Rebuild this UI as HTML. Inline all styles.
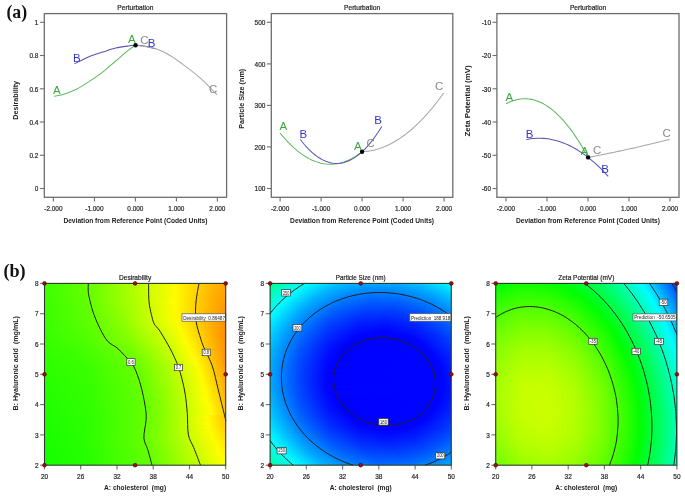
<!DOCTYPE html>
<html><head><meta charset="utf-8"><style>
html,body{margin:0;padding:0;background:#fff;}
body{width:685px;height:496px;overflow:hidden;position:relative;font-family:"Liberation Sans",sans-serif;}
#wrap{position:absolute;left:0;top:0;width:685px;height:496px;filter:blur(0.45px);}
.fld{position:absolute;overflow:hidden;}
.fld i{position:absolute;left:0;width:100%;height:2px;display:block;}
svg{position:absolute;left:0;top:0;}
svg text{font-family:"Liberation Sans",sans-serif;}
</style></head><body><div id="wrap">
<div class="fld" style="left:44.5px;top:283.4px;width:181.2px;height:181.8px"><i style="top:0px;background:linear-gradient(90deg,#3dff00 0px,#69ff00 46px,#aeff00 88px,#fffc00 130px,#ffb900 166px,#ffa400 181px)"></i><i style="top:2px;background:linear-gradient(90deg,#3dff00 0px,#67ff00 45px,#b7ff00 93px,#fffc00 130px,#ffb500 168px,#ffa300 181px)"></i><i style="top:4px;background:linear-gradient(90deg,#3dff00 0px,#67ff00 45px,#b7ff00 93px,#fffc00 130px,#ffb600 167px,#ffa200 181px)"></i><i style="top:6px;background:linear-gradient(90deg,#3dff00 0px,#67ff00 45px,#b1ff00 90px,#fffc00 130px,#ffb500 167px,#ffa100 181px)"></i><i style="top:8px;background:linear-gradient(90deg,#3cff00 0px,#6fff00 51px,#d5ff00 109px,#fffb00 130px,#ffb600 166px,#ffa000 181px)"></i><i style="top:10px;background:linear-gradient(90deg,#3cff00 0px,#71ff00 53px,#ddff00 113px,#fffb00 130px,#ffb200 168px,#ff9f00 181px)"></i><i style="top:12px;background:linear-gradient(90deg,#3cff00 0px,#66ff00 45px,#abff00 87px,#fffb00 130px,#ffb600 165px,#ff9d00 181px)"></i><i style="top:14px;background:linear-gradient(90deg,#3cff00 0px,#68ff00 47px,#b2ff00 91px,#fffb00 130px,#ffb000 168px,#ff9c00 181px)"></i><i style="top:16px;background:linear-gradient(90deg,#3cff00 0px,#65ff00 45px,#aaff00 87px,#fffd00 129px,#ffb100 167px,#ff9b00 181px)"></i><i style="top:18px;background:linear-gradient(90deg,#3bff00 0px,#67ff00 47px,#b1ff00 91px,#fffd00 129px,#ffab00 170px,#ff9a00 181px)"></i><i style="top:20px;background:linear-gradient(90deg,#3bff00 0px,#6aff00 50px,#b8ff00 95px,#fffd00 129px,#ffa900 171px,#ff9900 181px)"></i><i style="top:22px;background:linear-gradient(90deg,#3bff00 0px,#62ff00 44px,#9eff00 82px,#fffb00 130px,#ffa300 174px,#ff9800 181px)"></i><i style="top:24px;background:linear-gradient(90deg,#3bff00 0px,#63ff00 45px,#9bff00 81px,#fffc00 130px,#ffab00 169px,#ff9700 181px)"></i><i style="top:26px;background:linear-gradient(90deg,#3bff00 0px,#61ff00 44px,#95ff00 78px,#fffc00 130px,#ffa500 172px,#ff9600 181px)"></i><i style="top:28px;background:linear-gradient(90deg,#3bff00 0px,#60ff00 44px,#99ff00 81px,#fffd00 130px,#ffa800 170px,#ff9500 181px)"></i><i style="top:30px;background:linear-gradient(90deg,#3aff00 0px,#62ff00 46px,#9aff00 82px,#fffb00 131px,#ffa200 173px,#ff9400 181px)"></i><i style="top:32px;background:linear-gradient(90deg,#3aff00 0px,#5fff00 44px,#8cff00 75px,#f6ff00 126px,#fff700 133px,#ffa100 173px,#ff9300 181px)"></i><i style="top:34px;background:linear-gradient(90deg,#3aff00 0px,#5cff00 42px,#8aff00 75px,#f5ff00 126px,#fffa00 132px,#ffa400 171px,#ff9200 181px)"></i><i style="top:36px;background:linear-gradient(90deg,#3aff00 0px,#59ff00 40px,#85ff00 73px,#efff00 124px,#fffb00 132px,#ffa200 172px,#ff9100 181px)"></i><i style="top:38px;background:linear-gradient(90deg,#3aff00 0px,#58ff00 40px,#85ff00 74px,#f0ff00 125px,#fffa00 133px,#ff9700 177px,#ff9000 181px)"></i><i style="top:40px;background:linear-gradient(90deg,#3aff00 0px,#56ff00 39px,#82ff00 73px,#eeff00 125px,#fff900 134px,#ff8f00 181px)"></i><i style="top:42px;background:linear-gradient(90deg,#39ff00 0px,#5aff00 44px,#87ff00 77px,#edff00 126px,#fffc00 134px,#ff8e00 181px)"></i><i style="top:44px;background:linear-gradient(90deg,#39ff00 0px,#57ff00 41px,#83ff00 76px,#e2ff00 123px,#fffc00 135px,#ff8c00 181px)"></i><i style="top:46px;background:linear-gradient(90deg,#39ff00 0px,#55ff00 40px,#82ff00 77px,#e1ff00 124px,#fffc00 136px,#ff8d00 181px)"></i><i style="top:48px;background:linear-gradient(90deg,#38ff00 0px,#56ff00 43px,#85ff00 80px,#deff00 124px,#fffc00 137px,#ff9400 178px,#ff8d00 181px)"></i><i style="top:50px;background:linear-gradient(90deg,#37ff00 0px,#56ff00 44px,#86ff00 82px,#e3ff00 127px,#fffc00 138px,#ff9400 178px,#ff8d00 181px)"></i><i style="top:52px;background:linear-gradient(90deg,#36ff00 0px,#55ff00 44px,#84ff00 82px,#dbff00 125px,#fffb00 139px,#ff9000 180px,#ff8e00 181px)"></i><i style="top:54px;background:linear-gradient(90deg,#36ff00 0px,#52ff00 42px,#82ff00 82px,#dbff00 126px,#fffb00 140px,#ff9f00 174px,#ff8e00 181px)"></i><i style="top:56px;background:linear-gradient(90deg,#35ff00 0px,#51ff00 42px,#80ff00 82px,#d8ff00 126px,#fffe00 140px,#ff9d00 175px,#ff8f00 181px)"></i><i style="top:58px;background:linear-gradient(90deg,#34ff00 0px,#4eff00 41px,#7dff00 82px,#d3ff00 125px,#fffd00 141px,#ff8f00 181px)"></i><i style="top:60px;background:linear-gradient(90deg,#34ff00 0px,#47ff00 36px,#79ff00 82px,#d0ff00 125px,#fffd00 142px,#ff9000 181px)"></i><i style="top:62px;background:linear-gradient(90deg,#33ff00 0px,#46ff00 38px,#78ff00 84px,#cbff00 124px,#fffd00 143px,#ff9000 181px)"></i><i style="top:64px;background:linear-gradient(90deg,#32ff00 0px,#42ff00 36px,#76ff00 85px,#c1ff00 121px,#fffd00 144px,#ff9000 181px)"></i><i style="top:66px;background:linear-gradient(90deg,#31ff00 0px,#41ff00 37px,#76ff00 87px,#c8ff00 125px,#fffd00 145px,#ff9100 181px)"></i><i style="top:68px;background:linear-gradient(90deg,#31ff00 0px,#3fff00 36px,#73ff00 87px,#bcff00 121px,#fffd00 146px,#ff9100 181px)"></i><i style="top:70px;background:linear-gradient(90deg,#30ff00 0px,#3eff00 36px,#72ff00 88px,#b2ff00 118px,#fffd00 147px,#ff9200 181px)"></i><i style="top:72px;background:linear-gradient(90deg,#2fff00 0px,#3eff00 38px,#72ff00 90px,#beff00 124px,#fffd00 148px,#ff9200 181px)"></i><i style="top:74px;background:linear-gradient(90deg,#2eff00 0px,#3fff00 41px,#73ff00 92px,#b9ff00 123px,#fffd00 149px,#ff9300 181px)"></i><i style="top:76px;background:linear-gradient(90deg,#2eff00 0px,#3cff00 39px,#73ff00 94px,#c1ff00 127px,#fffd00 150px,#ff9300 181px)"></i><i style="top:78px;background:linear-gradient(90deg,#2dff00 0px,#3dff00 42px,#71ff00 94px,#b1ff00 122px,#fffd00 151px,#ff9c00 179px,#ff9400 181px)"></i><i style="top:80px;background:linear-gradient(90deg,#2cff00 0px,#3cff00 42px,#72ff00 96px,#afff00 122px,#fffd00 152px,#ffa200 178px,#ff9500 181px)"></i><i style="top:82px;background:linear-gradient(90deg,#2cff00 0px,#39ff00 39px,#69ff00 92px,#9cff00 116px,#fffc00 153px,#ffb000 175px,#ff9700 181px)"></i><i style="top:84px;background:linear-gradient(90deg,#2bff00 0px,#3aff00 42px,#6bff00 94px,#9dff00 117px,#fffb00 154px,#ffaa00 177px,#ff9800 181px)"></i><i style="top:86px;background:linear-gradient(90deg,#2aff00 0px,#39ff00 42px,#6bff00 95px,#a3ff00 120px,#fffd00 154px,#ffb000 176px,#ff9a00 181px)"></i><i style="top:88px;background:linear-gradient(90deg,#29ff00 0px,#39ff00 43px,#6dff00 97px,#a7ff00 122px,#fffc00 155px,#ffb100 176px,#ff9b00 181px)"></i><i style="top:90px;background:linear-gradient(90deg,#29ff00 0px,#37ff00 41px,#6aff00 96px,#9dff00 119px,#fffd00 155px,#ffb300 176px,#ff9c00 181px)"></i><i style="top:92px;background:linear-gradient(90deg,#28ff00 0px,#37ff00 42px,#6cff00 98px,#9eff00 120px,#fffc00 156px,#ffb500 176px,#ff9e00 181px)"></i><i style="top:94px;background:linear-gradient(90deg,#28ff00 0px,#36ff00 42px,#6bff00 98px,#9fff00 121px,#fffb00 157px,#ffb700 176px,#ff9f00 181px)"></i><i style="top:96px;background:linear-gradient(90deg,#27ff00 0px,#37ff00 44px,#6aff00 98px,#a0ff00 122px,#fffc00 157px,#ffb900 176px,#ffa100 181px)"></i><i style="top:98px;background:linear-gradient(90deg,#27ff00 0px,#35ff00 42px,#6cff00 100px,#a2ff00 123px,#fffb00 158px,#ffb600 177px,#ffa200 181px)"></i><i style="top:100px;background:linear-gradient(90deg,#26ff00 0px,#36ff00 44px,#6aff00 99px,#9bff00 121px,#fffd00 158px,#ffb800 177px,#ffa400 181px)"></i><i style="top:102px;background:linear-gradient(90deg,#26ff00 0px,#35ff00 43px,#69ff00 99px,#97ff00 120px,#fffb00 159px,#ffbf00 176px,#ffa500 181px)"></i><i style="top:104px;background:linear-gradient(90deg,#26ff00 0px,#34ff00 43px,#6bff00 101px,#a6ff00 126px,#fffd00 159px,#ffc100 176px,#ffa600 181px)"></i><i style="top:106px;background:linear-gradient(90deg,#25ff00 0px,#34ff00 43px,#68ff00 99px,#8fff00 118px,#fffc00 160px,#ffbe00 177px,#ffa800 181px)"></i><i style="top:108px;background:linear-gradient(90deg,#25ff00 0px,#33ff00 43px,#6bff00 102px,#a1ff00 125px,#fffd00 160px,#ffc500 176px,#ffa900 181px)"></i><i style="top:110px;background:linear-gradient(90deg,#24ff00 0px,#33ff00 43px,#67ff00 99px,#8fff00 119px,#fffc00 161px,#ffc200 177px,#ffab00 181px)"></i><i style="top:112px;background:linear-gradient(90deg,#24ff00 0px,#32ff00 42px,#66ff00 99px,#91ff00 120px,#fffe00 161px,#ffc400 177px,#ffad00 181px)"></i><i style="top:114px;background:linear-gradient(90deg,#23ff00 0px,#33ff00 45px,#68ff00 101px,#96ff00 122px,#ffff00 161px,#ffc700 177px,#ffaf00 181px)"></i><i style="top:116px;background:linear-gradient(90deg,#23ff00 0px,#31ff00 42px,#65ff00 99px,#8dff00 119px,#feff00 161px,#ffc900 177px,#ffb100 181px)"></i><i style="top:118px;background:linear-gradient(90deg,#22ff00 0px,#32ff00 45px,#67ff00 101px,#92ff00 121px,#ffff00 162px,#ffcb00 177px,#ffb300 181px)"></i><i style="top:120px;background:linear-gradient(90deg,#22ff00 0px,#30ff00 42px,#63ff00 98px,#84ff00 116px,#feff00 162px,#ffd200 176px,#ffb500 181px)"></i><i style="top:122px;background:linear-gradient(90deg,#22ff00 0px,#30ff00 43px,#66ff00 101px,#90ff00 121px,#e9ff00 154px,#fffc00 164px,#ffcb00 178px,#ffb800 181px)"></i><i style="top:124px;background:linear-gradient(90deg,#21ff00 0px,#30ff00 44px,#67ff00 102px,#92ff00 122px,#e8ff00 154px,#fffb00 165px,#ffcd00 178px,#ffba00 181px)"></i><i style="top:126px;background:linear-gradient(90deg,#21ff00 0px,#2fff00 43px,#68ff00 103px,#95ff00 123px,#e7ff00 154px,#fffd00 165px,#ffcb00 179px,#ffbc00 181px)"></i><i style="top:128px;background:linear-gradient(90deg,#20ff00 0px,#2fff00 43px,#65ff00 100px,#84ff00 117px,#dfff00 151px,#fffd00 166px,#ffcd00 179px,#ffbf00 181px)"></i><i style="top:130px;background:linear-gradient(90deg,#20ff00 0px,#2eff00 42px,#62ff00 98px,#82ff00 116px,#e3ff00 153px,#fffc00 167px,#ffd000 179px,#ffc100 181px)"></i><i style="top:132px;background:linear-gradient(90deg,#1fff00 0px,#2fff00 44px,#65ff00 101px,#8eff00 121px,#fffc00 162px,#ffc200 181px)"></i><i style="top:134px;background:linear-gradient(90deg,#1fff00 0px,#2dff00 42px,#65ff00 101px,#8eff00 121px,#fffd00 162px,#ffc400 181px)"></i><i style="top:136px;background:linear-gradient(90deg,#1eff00 0px,#2eff00 44px,#6cff00 106px,#adff00 132px,#fffb00 163px,#ffc600 181px)"></i><i style="top:138px;background:linear-gradient(90deg,#1eff00 0px,#2dff00 43px,#6bff00 105px,#a1ff00 128px,#fffd00 163px,#ffc900 181px)"></i><i style="top:140px;background:linear-gradient(90deg,#1eff00 0px,#2bff00 40px,#62ff00 98px,#89ff00 119px,#fffe00 163px,#ffcb00 181px)"></i><i style="top:142px;background:linear-gradient(90deg,#1dff00 0px,#2bff00 40px,#61ff00 97px,#85ff00 117px,#fffc00 164px,#ffcd00 181px)"></i><i style="top:144px;background:linear-gradient(90deg,#1dff00 0px,#2bff00 41px,#69ff00 103px,#9aff00 125px,#fffd00 164px,#ffcf00 181px)"></i><i style="top:146px;background:linear-gradient(90deg,#1cff00 0px,#2cff00 42px,#68ff00 102px,#9aff00 125px,#fffc00 165px,#ffd200 181px)"></i><i style="top:148px;background:linear-gradient(90deg,#1cff00 0px,#2aff00 40px,#67ff00 101px,#95ff00 123px,#fffd00 165px,#ffd400 181px)"></i><i style="top:150px;background:linear-gradient(90deg,#1bff00 0px,#2aff00 40px,#67ff00 101px,#98ff00 124px,#fffc00 166px,#ffd700 181px)"></i><i style="top:152px;background:linear-gradient(90deg,#1bff00 0px,#29ff00 39px,#66ff00 100px,#97ff00 124px,#fffc00 167px,#ffda00 181px)"></i><i style="top:154px;background:linear-gradient(90deg,#1aff00 0px,#2aff00 41px,#65ff00 99px,#9bff00 126px,#fffc00 168px,#ffdc00 181px)"></i><i style="top:156px;background:linear-gradient(90deg,#1aff00 0px,#29ff00 40px,#68ff00 102px,#9cff00 127px,#fffc00 169px,#ffdf00 181px)"></i><i style="top:158px;background:linear-gradient(90deg,#1aff00 0px,#27ff00 38px,#67ff00 102px,#9aff00 127px,#fffc00 170px,#ffe200 181px)"></i><i style="top:160px;background:linear-gradient(90deg,#19ff00 0px,#28ff00 40px,#65ff00 101px,#9dff00 129px,#fffc00 171px,#ffe500 181px)"></i><i style="top:162px;background:linear-gradient(90deg,#19ff00 0px,#26ff00 38px,#68ff00 104px,#99ff00 128px,#fffc00 172px,#ffe700 181px)"></i><i style="top:164px;background:linear-gradient(90deg,#18ff00 0px,#27ff00 40px,#67ff00 104px,#9cff00 130px,#fffc00 173px,#ffea00 181px)"></i><i style="top:166px;background:linear-gradient(90deg,#18ff00 0px,#26ff00 40px,#65ff00 103px,#9dff00 131px,#fffd00 174px,#ffed00 181px)"></i><i style="top:168px;background:linear-gradient(90deg,#17ff00 0px,#26ff00 40px,#67ff00 105px,#99ff00 130px,#fffd00 175px,#ffef00 181px)"></i><i style="top:170px;background:linear-gradient(90deg,#17ff00 0px,#25ff00 40px,#65ff00 104px,#90ff00 127px,#ffff00 175px,#fff200 181px)"></i><i style="top:172px;background:linear-gradient(90deg,#16ff00 0px,#26ff00 42px,#68ff00 107px,#9dff00 133px,#fffd00 177px,#fff500 181px)"></i><i style="top:174px;background:linear-gradient(90deg,#16ff00 0px,#25ff00 41px,#66ff00 106px,#9eff00 134px,#fffe00 178px,#fff700 181px)"></i><i style="top:176px;background:linear-gradient(90deg,#15ff00 0px,#26ff00 43px,#68ff00 108px,#9fff00 135px,#fffe00 179px,#fffa00 181px)"></i><i style="top:178px;background:linear-gradient(90deg,#15ff00 0px,#24ff00 41px,#66ff00 107px,#a2ff00 137px,#ffff00 180px,#fffd00 181px)"></i><i style="top:180px;background:linear-gradient(90deg,#15ff00 0px,#23ff00 40px,#68ff00 109px,#a3ff00 138px,#ffff00 181px)"></i></div><div class="fld" style="left:270.1px;top:283.4px;width:181.2px;height:181.8px"><i style="top:0px;background:linear-gradient(90deg,#00ff8d 0px,#00ffe7 27px,#00fdff 37px,#00c1ff 67px,#00a6ff 95px,#00a6ff 124px,#00c5ff 154px,#00fbff 181px)"></i><i style="top:2px;background:linear-gradient(90deg,#00ff96 0px,#00fff8 30px,#00f4ff 37px,#00baff 66px,#009dff 95px,#009eff 126px,#00bfff 156px,#00f2ff 181px)"></i><i style="top:4px;background:linear-gradient(90deg,#00ff9e 0px,#00fffa 28px,#00e9ff 38px,#00b0ff 67px,#0094ff 96px,#0095ff 125px,#00b3ff 154px,#00e9ff 181px)"></i><i style="top:6px;background:linear-gradient(90deg,#00ffa6 0px,#00fffd 26px,#00b6ff 58px,#0090ff 88px,#0089ff 117px,#009fff 146px,#00d2ff 175px,#00e1ff 181px)"></i><i style="top:8px;background:linear-gradient(90deg,#00ffae 0px,#00ffff 24px,#00bcff 51px,#008fff 80px,#0080ff 110px,#008fff 139px,#00b9ff 167px,#00d8ff 181px)"></i><i style="top:10px;background:linear-gradient(90deg,#00ffb6 0px,#00fdff 22px,#00b6ff 50px,#0088ff 79px,#0078ff 108px,#0084ff 136px,#00a9ff 163px,#00d0ff 181px)"></i><i style="top:12px;background:linear-gradient(90deg,#00ffbd 0px,#00ffff 19px,#00b4ff 47px,#0084ff 76px,#0071ff 103px,#0078ff 132px,#009dff 161px,#00c7ff 181px)"></i><i style="top:14px;background:linear-gradient(90deg,#00ffc5 0px,#00feff 17px,#00b1ff 45px,#0080ff 73px,#0069ff 102px,#0070ff 131px,#0093ff 160px,#00bfff 181px)"></i><i style="top:16px;background:linear-gradient(90deg,#00ffcc 0px,#00fdff 15px,#00aeff 43px,#007bff 71px,#0062ff 100px,#0067ff 130px,#008aff 159px,#00b7ff 181px)"></i><i style="top:18px;background:linear-gradient(90deg,#00ffd3 0px,#00fcff 13px,#00a7ff 43px,#0072ff 72px,#005bff 100px,#005fff 129px,#0082ff 159px,#00b0ff 181px)"></i><i style="top:20px;background:linear-gradient(90deg,#00ffda 0px,#00fcff 11px,#00a5ff 41px,#006eff 70px,#0054ff 99px,#0057ff 128px,#0076ff 156px,#00a8ff 181px)"></i><i style="top:22px;background:linear-gradient(90deg,#00ffe0 0px,#00fdff 9px,#00a3ff 39px,#006aff 68px,#004eff 97px,#004fff 126px,#006dff 155px,#00a1ff 181px)"></i><i style="top:24px;background:linear-gradient(90deg,#00ffe7 0px,#00faff 8px,#00a4ff 36px,#0069ff 64px,#0049ff 93px,#0046ff 122px,#0060ff 151px,#0097ff 180px,#009aff 181px)"></i><i style="top:26px;background:linear-gradient(90deg,#00ffed 0px,#00fbff 6px,#00a5ff 33px,#0066ff 62px,#0043ff 92px,#003fff 121px,#0058ff 150px,#0090ff 180px,#0093ff 181px)"></i><i style="top:28px;background:linear-gradient(90deg,#00fff3 0px,#00fcff 4px,#00a2ff 32px,#0063ff 60px,#003eff 90px,#0038ff 120px,#0051ff 150px,#0087ff 179px,#008cff 181px)"></i><i style="top:30px;background:linear-gradient(90deg,#00fff9 0px,#00eeff 6px,#0091ff 36px,#0053ff 66px,#0033ff 98px,#0036ff 129px,#0057ff 158px,#0086ff 181px)"></i><i style="top:32px;background:linear-gradient(90deg,#00ffff 0px,#00a1ff 28px,#005bff 58px,#0034ff 87px,#002bff 117px,#003eff 145px,#0071ff 175px,#007fff 181px)"></i><i style="top:34px;background:linear-gradient(90deg,#00faff 0px,#009cff 28px,#0059ff 56px,#002fff 86px,#0025ff 116px,#0038ff 145px,#006bff 175px,#0079ff 181px)"></i><i style="top:36px;background:linear-gradient(90deg,#00f4ff 0px,#0093ff 29px,#0051ff 57px,#0029ff 87px,#001fff 117px,#0035ff 147px,#0067ff 176px,#0073ff 181px)"></i><i style="top:38px;background:linear-gradient(90deg,#00efff 0px,#008bff 30px,#0048ff 59px,#0022ff 89px,#001aff 117px,#002dff 145px,#005fff 175px,#006dff 181px)"></i><i style="top:40px;background:linear-gradient(90deg,#00eaff 0px,#0086ff 30px,#0041ff 60px,#001dff 88px,#0014ff 117px,#0027ff 145px,#0055ff 173px,#0068ff 181px)"></i><i style="top:42px;background:linear-gradient(90deg,#00e5ff 0px,#0081ff 30px,#003cff 60px,#0017ff 89px,#000fff 118px,#0024ff 147px,#0054ff 175px,#0062ff 181px)"></i><i style="top:44px;background:linear-gradient(90deg,#00e1ff 0px,#0082ff 28px,#003bff 58px,#0013ff 88px,#000aff 118px,#001fff 147px,#0051ff 176px,#005dff 181px)"></i><i style="top:46px;background:linear-gradient(90deg,#00dcff 0px,#0078ff 30px,#0037ff 58px,#0010ff 86px,#0005ff 115px,#0016ff 143px,#0040ff 170px,#0058ff 181px)"></i><i style="top:48px;background:linear-gradient(90deg,#00d8ff 0px,#007aff 28px,#0036ff 56px,#000eff 84px,#0000ff 112px,#000fff 141px,#0039ff 169px,#0053ff 181px)"></i><i style="top:50px;background:linear-gradient(90deg,#00d4ff 0px,#0075ff 28px,#0030ff 57px,#0006ff 87px,#0000ff 114px,#0006ff 136px,#0029ff 163px,#004eff 181px)"></i><i style="top:52px;background:linear-gradient(90deg,#00d0ff 0px,#0071ff 28px,#002cff 57px,#0004ff 85px,#0004ff 139px,#002cff 167px,#004aff 181px)"></i><i style="top:54px;background:linear-gradient(90deg,#00cdff 0px,#0071ff 27px,#002eff 54px,#0001ff 84px,#0004ff 143px,#0031ff 172px,#0045ff 181px)"></i><i style="top:56px;background:linear-gradient(90deg,#00c9ff 0px,#0067ff 29px,#0020ff 59px,#0000ff 83px,#0004ff 147px,#0038ff 177px,#0041ff 181px)"></i><i style="top:58px;background:linear-gradient(90deg,#00c6ff 0px,#006aff 27px,#0027ff 54px,#0000ff 79px,#0004ff 150px,#0038ff 179px,#003dff 181px)"></i><i style="top:60px;background:linear-gradient(90deg,#00c3ff 0px,#0063ff 28px,#001bff 58px,#0000ff 77px,#0003ff 152px,#0039ff 181px)"></i><i style="top:62px;background:linear-gradient(90deg,#00c0ff 0px,#0060ff 28px,#0018ff 58px,#0000ff 75px,#0004ff 155px,#0036ff 181px)"></i><i style="top:64px;background:linear-gradient(90deg,#00bdff 0px,#005eff 28px,#0019ff 56px,#0000ff 73px,#0004ff 157px,#0032ff 181px)"></i><i style="top:66px;background:linear-gradient(90deg,#00baff 0px,#0055ff 30px,#0013ff 58px,#0000ff 71px,#0004ff 159px,#002fff 181px)"></i><i style="top:68px;background:linear-gradient(90deg,#00b8ff 0px,#0058ff 28px,#0010ff 58px,#0000ff 70px,#0004ff 161px,#002cff 181px)"></i><i style="top:70px;background:linear-gradient(90deg,#00b6ff 0px,#0050ff 30px,#000aff 60px,#0000ff 70px,#0003ff 162px,#0029ff 181px)"></i><i style="top:72px;background:linear-gradient(90deg,#00b4ff 0px,#0051ff 29px,#0009ff 59px,#0000ff 69px,#0004ff 164px,#0027ff 181px)"></i><i style="top:74px;background:linear-gradient(90deg,#00b2ff 0px,#004cff 30px,#0007ff 59px,#0000ff 68px,#0003ff 165px,#0024ff 181px)"></i><i style="top:76px;background:linear-gradient(90deg,#00b0ff 0px,#004dff 29px,#0007ff 58px,#0000ff 67px,#0004ff 167px,#0022ff 181px)"></i><i style="top:78px;background:linear-gradient(90deg,#00afff 0px,#004fff 28px,#000cff 55px,#0000ff 64px,#0004ff 168px,#0020ff 181px)"></i><i style="top:80px;background:linear-gradient(90deg,#00aeff 0px,#004dff 28px,#0004ff 58px,#0004ff 169px,#001eff 181px)"></i><i style="top:82px;background:linear-gradient(90deg,#00adff 0px,#0049ff 29px,#0001ff 59px,#0004ff 170px,#001cff 181px)"></i><i style="top:84px;background:linear-gradient(90deg,#00acff 0px,#0048ff 29px,#0000ff 59px,#0003ff 170px,#001aff 181px)"></i><i style="top:86px;background:linear-gradient(90deg,#00abff 0px,#004aff 28px,#0003ff 57px,#0004ff 171px,#0019ff 181px)"></i><i style="top:88px;background:linear-gradient(90deg,#00abff 0px,#004dff 27px,#0002ff 57px,#0004ff 172px,#0018ff 181px)"></i><i style="top:90px;background:linear-gradient(90deg,#00aaff 0px,#0046ff 29px,#0000ff 58px,#0003ff 172px,#0017ff 181px)"></i><i style="top:92px;background:linear-gradient(90deg,#00aaff 0px,#0046ff 29px,#0001ff 57px,#0003ff 172px,#0016ff 181px)"></i><i style="top:94px;background:linear-gradient(90deg,#00aaff 0px,#0046ff 29px,#0001ff 57px,#0004ff 173px,#0015ff 181px)"></i><i style="top:96px;background:linear-gradient(90deg,#00aaff 0px,#0046ff 29px,#0001ff 57px,#0004ff 173px,#0015ff 181px)"></i><i style="top:98px;background:linear-gradient(90deg,#00abff 0px,#0049ff 28px,#0001ff 57px,#0003ff 173px,#0015ff 181px)"></i><i style="top:100px;background:linear-gradient(90deg,#00abff 0px,#0047ff 29px,#0002ff 57px,#0003ff 173px,#0015ff 181px)"></i><i style="top:102px;background:linear-gradient(90deg,#00acff 0px,#004eff 27px,#0004ff 56px,#0003ff 173px,#0015ff 181px)"></i><i style="top:104px;background:linear-gradient(90deg,#00adff 0px,#004bff 28px,#0003ff 57px,#0004ff 173px,#0015ff 181px)"></i><i style="top:106px;background:linear-gradient(90deg,#00aeff 0px,#0050ff 27px,#0008ff 55px,#0000ff 63px,#0004ff 173px,#0015ff 181px)"></i><i style="top:108px;background:linear-gradient(90deg,#00afff 0px,#004bff 29px,#0003ff 58px,#0003ff 172px,#0016ff 181px)"></i><i style="top:110px;background:linear-gradient(90deg,#00b1ff 0px,#004cff 29px,#0002ff 59px,#0004ff 172px,#0017ff 181px)"></i><i style="top:112px;background:linear-gradient(90deg,#00b3ff 0px,#0051ff 28px,#000cff 55px,#0000ff 64px,#0003ff 171px,#0018ff 181px)"></i><i style="top:114px;background:linear-gradient(90deg,#00b5ff 0px,#0053ff 28px,#000eff 55px,#0000ff 64px,#0004ff 171px,#0019ff 181px)"></i><i style="top:116px;background:linear-gradient(90deg,#00b7ff 0px,#0051ff 29px,#0005ff 60px,#0000ff 75px,#0004ff 170px,#001bff 181px)"></i><i style="top:118px;background:linear-gradient(90deg,#00b9ff 0px,#0057ff 28px,#000dff 57px,#0000ff 67px,#0003ff 169px,#001cff 181px)"></i><i style="top:120px;background:linear-gradient(90deg,#00bbff 0px,#0056ff 29px,#0010ff 57px,#0000ff 68px,#0003ff 168px,#001eff 181px)"></i><i style="top:122px;background:linear-gradient(90deg,#00beff 0px,#0055ff 30px,#000eff 59px,#0000ff 69px,#0004ff 167px,#0020ff 181px)"></i><i style="top:124px;background:linear-gradient(90deg,#00c1ff 0px,#0058ff 30px,#0011ff 59px,#0000ff 70px,#0004ff 166px,#0022ff 181px)"></i><i style="top:126px;background:linear-gradient(90deg,#00c4ff 0px,#005bff 30px,#0011ff 60px,#0000ff 72px,#0003ff 164px,#0024ff 181px)"></i><i style="top:128px;background:linear-gradient(90deg,#00c7ff 0px,#005eff 30px,#0014ff 60px,#0000ff 74px,#0004ff 163px,#0027ff 181px)"></i><i style="top:130px;background:linear-gradient(90deg,#00caff 0px,#0061ff 30px,#001aff 59px,#0000ff 76px,#0004ff 161px,#0029ff 181px)"></i><i style="top:132px;background:linear-gradient(90deg,#00ceff 0px,#006bff 28px,#0023ff 56px,#0000ff 78px,#0004ff 159px,#002cff 181px)"></i><i style="top:134px;background:linear-gradient(90deg,#00d2ff 0px,#006bff 29px,#001eff 60px,#0000ff 81px,#0004ff 157px,#002fff 181px)"></i><i style="top:136px;background:linear-gradient(90deg,#00d5ff 0px,#006cff 30px,#0024ff 59px,#0000ff 83px,#0004ff 155px,#0033ff 181px)"></i><i style="top:138px;background:linear-gradient(90deg,#00daff 0px,#0073ff 29px,#0028ff 59px,#0000ff 85px,#0004ff 152px,#0036ff 181px)"></i><i style="top:140px;background:linear-gradient(90deg,#00deff 0px,#0077ff 29px,#002cff 59px,#0002ff 87px,#0004ff 149px,#0035ff 179px,#003aff 181px)"></i><i style="top:142px;background:linear-gradient(90deg,#00e2ff 0px,#0079ff 30px,#002eff 60px,#0004ff 89px,#0004ff 145px,#0031ff 175px,#003eff 181px)"></i><i style="top:144px;background:linear-gradient(90deg,#00e7ff 0px,#0080ff 29px,#0035ff 59px,#0008ff 89px,#0000ff 109px,#0004ff 140px,#0029ff 169px,#0041ff 181px)"></i><i style="top:146px;background:linear-gradient(90deg,#00ecff 0px,#0085ff 29px,#003bff 58px,#000eff 88px,#0000ff 116px,#000aff 142px,#0031ff 171px,#0046ff 181px)"></i><i style="top:148px;background:linear-gradient(90deg,#00f1ff 0px,#008aff 29px,#0040ff 58px,#0012ff 88px,#0004ff 117px,#0011ff 145px,#003bff 174px,#004aff 181px)"></i><i style="top:150px;background:linear-gradient(90deg,#00f6ff 0px,#008fff 29px,#0045ff 58px,#0018ff 87px,#0008ff 118px,#0018ff 147px,#0042ff 175px,#004fff 181px)"></i><i style="top:152px;background:linear-gradient(90deg,#00fcff 0px,#0094ff 29px,#0048ff 59px,#001bff 89px,#000dff 119px,#001eff 148px,#0047ff 175px,#0053ff 181px)"></i><i style="top:154px;background:linear-gradient(90deg,#00fffd 0px,#0091ff 32px,#004eff 59px,#0024ff 86px,#0013ff 113px,#001cff 141px,#0044ff 171px,#0058ff 181px)"></i><i style="top:156px;background:linear-gradient(90deg,#00fff7 0px,#00f7ff 4px,#0097ff 32px,#0051ff 60px,#0026ff 89px,#0018ff 118px,#0026ff 146px,#004dff 173px,#005dff 181px)"></i><i style="top:158px;background:linear-gradient(90deg,#00fff1 0px,#00f9ff 5px,#0099ff 33px,#0051ff 63px,#002aff 91px,#001dff 119px,#002eff 149px,#005eff 179px,#0063ff 181px)"></i><i style="top:160px;background:linear-gradient(90deg,#00ffeb 0px,#00fbff 6px,#009dff 34px,#0059ff 62px,#0031ff 90px,#0023ff 118px,#0032ff 147px,#005cff 175px,#0068ff 181px)"></i><i style="top:162px;background:linear-gradient(90deg,#00ffe5 0px,#00feff 7px,#00a0ff 35px,#005bff 64px,#0033ff 94px,#0029ff 123px,#003eff 153px,#006eff 181px)"></i><i style="top:164px;background:linear-gradient(90deg,#00ffde 0px,#00fcff 9px,#009eff 38px,#005eff 66px,#0038ff 95px,#0030ff 125px,#0045ff 154px,#0074ff 181px)"></i><i style="top:166px;background:linear-gradient(90deg,#00ffd8 0px,#00fcff 11px,#00a4ff 38px,#0064ff 66px,#003fff 94px,#0036ff 122px,#0046ff 149px,#0073ff 178px,#007aff 181px)"></i><i style="top:168px;background:linear-gradient(90deg,#00ffd1 0px,#00fbff 13px,#00a0ff 42px,#0062ff 71px,#0040ff 102px,#0040ff 134px,#005eff 163px,#0080ff 181px)"></i><i style="top:170px;background:linear-gradient(90deg,#00ffca 0px,#00ffff 14px,#00a7ff 42px,#0069ff 71px,#0048ff 100px,#0044ff 129px,#0060ff 160px,#0086ff 181px)"></i><i style="top:172px;background:linear-gradient(90deg,#00ffc2 0px,#00ffff 16px,#00a9ff 44px,#0070ff 71px,#004eff 101px,#004bff 129px,#0064ff 158px,#008dff 181px)"></i><i style="top:174px;background:linear-gradient(90deg,#00ffbb 0px,#00ffff 18px,#00a6ff 48px,#006eff 77px,#0053ff 105px,#0054ff 134px,#0072ff 163px,#0094ff 181px)"></i><i style="top:176px;background:linear-gradient(90deg,#00ffb3 0px,#00fcff 21px,#00abff 49px,#0074ff 78px,#0059ff 108px,#005dff 137px,#007eff 166px,#009aff 181px)"></i><i style="top:178px;background:linear-gradient(90deg,#00ffab 0px,#00fdff 23px,#00acff 52px,#0077ff 81px,#0060ff 110px,#0065ff 138px,#0087ff 167px,#00a2ff 181px)"></i><i style="top:180px;background:linear-gradient(90deg,#00ffa3 0px,#00ffff 25px,#00b1ff 53px,#007eff 82px,#0067ff 111px,#006eff 140px,#0090ff 168px,#00a9ff 181px)"></i></div><div class="fld" style="left:495.7px;top:283.4px;width:181.2px;height:181.8px"><i style="top:0px;background:linear-gradient(90deg,#00ff05 0px,#0eff00 20px,#0dff00 46px,#00ff05 64px,#00ff34 89px,#00ff88 117px,#00fff9 144px,#00e8ff 150px,#0052ff 177px,#0039ff 181px)"></i><i style="top:2px;background:linear-gradient(90deg,#01ff00 0px,#16ff00 25px,#10ff00 50px,#00ff03 67px,#00ff3a 94px,#00ff90 121px,#00feff 147px,#0071ff 173px,#0040ff 181px)"></i><i style="top:4px;background:linear-gradient(90deg,#07ff00 0px,#1cff00 26px,#15ff00 52px,#00ff03 71px,#00ff3c 97px,#00ff91 123px,#00fbff 149px,#006cff 175px,#0047ff 181px)"></i><i style="top:6px;background:linear-gradient(90deg,#0dff00 0px,#22ff00 26px,#1aff00 53px,#00ff04 75px,#00ff3e 100px,#00ff96 126px,#00fdff 150px,#006dff 176px,#004eff 181px)"></i><i style="top:8px;background:linear-gradient(90deg,#12ff00 0px,#28ff00 26px,#20ff00 53px,#00ff03 78px,#00ff49 106px,#00ffac 133px,#00ffff 151px,#0068ff 178px,#0056ff 181px)"></i><i style="top:10px;background:linear-gradient(90deg,#17ff00 0px,#2dff00 25px,#27ff00 51px,#05ff00 77px,#00ff12 88px,#00ff60 115px,#00ffc9 141px,#00fbff 153px,#0069ff 179px,#005cff 181px)"></i><i style="top:12px;background:linear-gradient(90deg,#1dff00 0px,#33ff00 27px,#2bff00 53px,#07ff00 79px,#00ff0a 87px,#00ff53 113px,#00ffc7 142px,#00fdff 154px,#006aff 180px,#0063ff 181px)"></i><i style="top:14px;background:linear-gradient(90deg,#22ff00 0px,#38ff00 26px,#32ff00 52px,#0dff00 79px,#00ff06 88px,#00ff54 115px,#00ffc5 143px,#00feff 155px,#006aff 181px)"></i><i style="top:16px;background:linear-gradient(90deg,#27ff00 0px,#3dff00 25px,#38ff00 51px,#15ff00 78px,#00ff03 89px,#00ff51 116px,#00ffba 142px,#00ffff 156px,#0071ff 181px)"></i><i style="top:18px;background:linear-gradient(90deg,#2cff00 0px,#43ff00 26px,#3cff00 53px,#18ff00 79px,#00ff04 92px,#00ff56 119px,#00ffc2 145px,#00fbff 158px,#0077ff 181px)"></i><i style="top:20px;background:linear-gradient(90deg,#31ff00 0px,#48ff00 26px,#42ff00 52px,#1eff00 79px,#00ff03 94px,#00ff57 121px,#00ffca 148px,#00fcff 159px,#007eff 181px)"></i><i style="top:22px;background:linear-gradient(90deg,#36ff00 0px,#4dff00 26px,#47ff00 52px,#27ff00 77px,#00ff03 96px,#00ff55 122px,#00ffc9 149px,#00fdff 160px,#0084ff 181px)"></i><i style="top:24px;background:linear-gradient(90deg,#3aff00 0px,#51ff00 24px,#4eff00 50px,#2eff00 76px,#00ff03 98px,#00ff57 124px,#00ffc8 150px,#00feff 161px,#008aff 181px)"></i><i style="top:26px;background:linear-gradient(90deg,#3fff00 0px,#57ff00 27px,#50ff00 54px,#2cff00 80px,#00ff03 100px,#00ff59 126px,#00ffcc 152px,#00feff 162px,#0090ff 181px)"></i><i style="top:28px;background:linear-gradient(90deg,#43ff00 0px,#5bff00 25px,#57ff00 51px,#37ff00 77px,#00ff03 102px,#00ff5f 129px,#00ffdf 157px,#00ffff 163px,#0096ff 181px)"></i><i style="top:30px;background:linear-gradient(90deg,#48ff00 0px,#60ff00 27px,#5bff00 52px,#3cff00 77px,#00ff04 104px,#00ff5a 129px,#00ffca 154px,#00ffff 164px,#009cff 181px)"></i><i style="top:32px;background:linear-gradient(90deg,#4cff00 0px,#64ff00 25px,#61ff00 51px,#3fff00 78px,#00ff04 106px,#00ff5d 131px,#00ffcf 156px,#00ffff 165px,#00a2ff 181px)"></i><i style="top:34px;background:linear-gradient(90deg,#50ff00 0px,#69ff00 26px,#64ff00 53px,#40ff00 80px,#00ff02 107px,#00ff5f 133px,#00ffde 160px,#00ffff 166px,#00a8ff 181px)"></i><i style="top:36px;background:linear-gradient(90deg,#54ff00 0px,#6dff00 26px,#69ff00 52px,#49ff00 78px,#09ff00 105px,#00ff03 109px,#00ff63 135px,#00ffd9 160px,#00ffff 167px,#00adff 181px)"></i><i style="top:38px;background:linear-gradient(90deg,#58ff00 0px,#71ff00 26px,#6eff00 51px,#4fff00 77px,#13ff00 103px,#00ff05 111px,#00ff62 136px,#00ffd3 160px,#00ffff 168px,#00b3ff 181px)"></i><i style="top:40px;background:linear-gradient(90deg,#5cff00 0px,#76ff00 27px,#71ff00 53px,#50ff00 79px,#12ff00 105px,#00ff03 112px,#00ff69 139px,#00ffff 169px,#00b8ff 181px)"></i><i style="top:42px;background:linear-gradient(90deg,#60ff00 0px,#7aff00 27px,#75ff00 54px,#51ff00 81px,#0bff00 109px,#00ff08 115px,#00ff6d 141px,#00fff4 168px,#00f9ff 171px,#00beff 181px)"></i><i style="top:44px;background:linear-gradient(90deg,#64ff00 0px,#7dff00 26px,#7aff00 52px,#5cff00 77px,#24ff00 102px,#00ff04 115px,#00ff68 141px,#00ffef 168px,#00feff 171px,#00c3ff 181px)"></i><i style="top:46px;background:linear-gradient(90deg,#67ff00 0px,#81ff00 26px,#7eff00 52px,#5fff00 78px,#20ff00 105px,#00ff02 116px,#00ff71 144px,#00fdff 172px,#00c8ff 181px)"></i><i style="top:48px;background:linear-gradient(90deg,#6bff00 0px,#85ff00 27px,#82ff00 52px,#63ff00 78px,#27ff00 104px,#00ff01 117px,#00ff71 145px,#00fff6 171px,#00f7ff 174px,#00cdff 181px)"></i><i style="top:50px;background:linear-gradient(90deg,#6eff00 0px,#89ff00 27px,#85ff00 53px,#65ff00 79px,#26ff00 106px,#00ff04 119px,#00ff71 146px,#00fff7 172px,#00f0ff 176px,#00d2ff 181px)"></i><i style="top:52px;background:linear-gradient(90deg,#71ff00 0px,#8cff00 27px,#89ff00 53px,#69ff00 79px,#2aff00 106px,#00ff03 120px,#00ff6c 146px,#00fff8 173px,#00f5ff 176px,#00d7ff 181px)"></i><i style="top:54px;background:linear-gradient(90deg,#74ff00 0px,#90ff00 28px,#8cff00 54px,#6bff00 80px,#2eff00 106px,#00ff02 121px,#00ff71 148px,#00fff9 174px,#00f3ff 177px,#00dbff 181px)"></i><i style="top:56px;background:linear-gradient(90deg,#77ff00 0px,#94ff00 29px,#8eff00 56px,#6bff00 82px,#2fff00 107px,#00ff02 122px,#00ff6d 148px,#00ffef 173px,#00feff 176px,#00e0ff 181px)"></i><i style="top:58px;background:linear-gradient(90deg,#7aff00 0px,#96ff00 26px,#93ff00 54px,#71ff00 81px,#33ff00 107px,#00ff01 123px,#00ff72 150px,#00fcff 177px,#00e5ff 181px)"></i><i style="top:60px;background:linear-gradient(90deg,#7dff00 0px,#99ff00 26px,#97ff00 53px,#78ff00 79px,#3aff00 106px,#00ff01 124px,#00ff6e 150px,#00fff7 176px,#00efff 180px,#00e9ff 181px)"></i><i style="top:62px;background:linear-gradient(90deg,#80ff00 0px,#9dff00 29px,#99ff00 55px,#76ff00 82px,#3aff00 107px,#00ff01 125px,#00ff6a 150px,#00fff3 176px,#00f9ff 179px,#00edff 181px)"></i><i style="top:64px;background:linear-gradient(90deg,#83ff00 0px,#a0ff00 29px,#9cff00 55px,#7bff00 81px,#3eff00 107px,#00ff01 126px,#00ff6f 152px,#00fdff 179px,#00f1ff 181px)"></i><i style="top:66px;background:linear-gradient(90deg,#85ff00 0px,#a1ff00 25px,#a1ff00 52px,#84ff00 78px,#47ff00 105px,#00ff01 127px,#00ff70 153px,#00fcff 180px,#00f6ff 181px)"></i><i style="top:68px;background:linear-gradient(90deg,#88ff00 0px,#a6ff00 30px,#a1ff00 56px,#80ff00 82px,#3fff00 109px,#00ff01 128px,#00ff6d 153px,#00ffed 177px,#00faff 181px)"></i><i style="top:70px;background:linear-gradient(90deg,#8aff00 0px,#a7ff00 26px,#a6ff00 53px,#88ff00 79px,#4eff00 105px,#00ff02 129px,#00ff6e 154px,#00fff5 179px,#00fdff 181px)"></i><i style="top:72px;background:linear-gradient(90deg,#8cff00 0px,#aaff00 27px,#a9ff00 53px,#89ff00 80px,#51ff00 105px,#00ff02 130px,#00ff74 156px,#00fffd 181px)"></i><i style="top:74px;background:linear-gradient(90deg,#8fff00 0px,#abff00 26px,#abff00 54px,#8cff00 80px,#54ff00 105px,#00ff03 131px,#00ff6c 155px,#00fff3 180px,#00fff9 181px)"></i><i style="top:76px;background:linear-gradient(90deg,#91ff00 0px,#aeff00 26px,#adff00 54px,#8fff00 80px,#54ff00 106px,#00ff03 132px,#00ff81 160px,#00fff5 181px)"></i><i style="top:78px;background:linear-gradient(90deg,#93ff00 0px,#b0ff00 26px,#b0ff00 53px,#93ff00 79px,#5aff00 105px,#00ff04 133px,#00ff79 159px,#00fff2 181px)"></i><i style="top:80px;background:linear-gradient(90deg,#94ff00 0px,#b1ff00 24px,#b4ff00 50px,#99ff00 77px,#62ff00 103px,#0eff00 129px,#00ff05 134px,#00ff76 159px,#00ffef 181px)"></i><i style="top:82px;background:linear-gradient(90deg,#96ff00 0px,#b4ff00 26px,#b4ff00 54px,#98ff00 79px,#5fff00 105px,#0aff00 131px,#00ff0a 136px,#00ff82 162px,#00ffeb 181px)"></i><i style="top:84px;background:linear-gradient(90deg,#98ff00 0px,#b6ff00 26px,#b6ff00 54px,#99ff00 80px,#5fff00 106px,#0cff00 131px,#00ff03 135px,#00ff75 160px,#00ffe8 181px)"></i><i style="top:86px;background:linear-gradient(90deg,#99ff00 0px,#b8ff00 26px,#b8ff00 54px,#9bff00 80px,#5fff00 107px,#07ff00 133px,#00ff09 137px,#00ff81 163px,#00ffe5 181px)"></i><i style="top:88px;background:linear-gradient(90deg,#9bff00 0px,#b9ff00 26px,#bcff00 50px,#9fff00 79px,#64ff00 106px,#0aff00 133px,#00ff0a 138px,#00ff83 164px,#00ffe2 181px)"></i><i style="top:90px;background:linear-gradient(90deg,#9cff00 0px,#bbff00 26px,#bbff00 56px,#9cff00 82px,#60ff00 108px,#10ff00 132px,#00ff04 137px,#00ff7b 163px,#00ffdf 181px)"></i><i style="top:92px;background:linear-gradient(90deg,#9dff00 0px,#bcff00 25px,#bfff00 52px,#a3ff00 79px,#6bff00 105px,#1aff00 130px,#00ff05 138px,#00ff83 165px,#00ffdc 181px)"></i><i style="top:94px;background:linear-gradient(90deg,#9fff00 0px,#beff00 26px,#c0ff00 53px,#a5ff00 79px,#6aff00 106px,#15ff00 132px,#00ff03 138px,#00ff7b 164px,#00ffda 181px)"></i><i style="top:96px;background:linear-gradient(90deg,#a0ff00 0px,#bfff00 26px,#c2ff00 52px,#a5ff00 80px,#6cff00 106px,#17ff00 132px,#00ff05 139px,#00ff83 166px,#00ffd7 181px)"></i><i style="top:98px;background:linear-gradient(90deg,#a1ff00 0px,#c1ff00 27px,#c1ff00 56px,#a3ff00 82px,#6bff00 107px,#19ff00 132px,#00ff03 139px,#00ff71 163px,#00ffd4 181px)"></i><i style="top:100px;background:linear-gradient(90deg,#a1ff00 0px,#c0ff00 24px,#c5ff00 51px,#a8ff00 80px,#70ff00 106px,#1bff00 132px,#00ff05 140px,#00ff7a 165px,#00ffd2 181px)"></i><i style="top:102px;background:linear-gradient(90deg,#a2ff00 0px,#c2ff00 26px,#c6ff00 51px,#a8ff00 81px,#6cff00 108px,#15ff00 134px,#00ff03 140px,#00ff77 165px,#00ffd0 181px)"></i><i style="top:104px;background:linear-gradient(90deg,#a3ff00 0px,#c4ff00 27px,#c6ff00 54px,#abff00 80px,#70ff00 107px,#1bff00 133px,#00ff05 141px,#00ff80 167px,#00ffce 181px)"></i><i style="top:106px;background:linear-gradient(90deg,#a3ff00 0px,#c4ff00 26px,#c7ff00 54px,#acff00 80px,#72ff00 107px,#19ff00 134px,#00ff03 141px,#00ff88 169px,#00ffcc 181px)"></i><i style="top:108px;background:linear-gradient(90deg,#a4ff00 0px,#c4ff00 26px,#c9ff00 51px,#b3ff00 76px,#7bff00 104px,#2dff00 129px,#00ff02 141px,#00ff7c 167px,#00ffca 181px)"></i><i style="top:110px;background:linear-gradient(90deg,#a4ff00 0px,#c6ff00 27px,#c9ff00 53px,#aeff00 80px,#77ff00 106px,#20ff00 133px,#00ff04 142px,#00ff7f 168px,#00ffc8 181px)"></i><i style="top:112px;background:linear-gradient(90deg,#a4ff00 0px,#c5ff00 25px,#caff00 52px,#acff00 82px,#70ff00 109px,#19ff00 135px,#00ff03 142px,#00ff79 167px,#00ffc6 181px)"></i><i style="top:114px;background:linear-gradient(90deg,#a4ff00 0px,#c6ff00 26px,#caff00 52px,#b3ff00 78px,#7cff00 105px,#26ff00 132px,#00ff02 142px,#00ff7c 168px,#00ffc4 181px)"></i><i style="top:116px;background:linear-gradient(90deg,#a4ff00 0px,#c6ff00 26px,#cbff00 53px,#afff00 81px,#75ff00 108px,#1cff00 135px,#00ff00 142px,#00ff7b 168px,#00ffc3 181px)"></i><i style="top:118px;background:linear-gradient(90deg,#a4ff00 0px,#c5ff00 25px,#ccff00 51px,#b4ff00 78px,#80ff00 104px,#2cff00 131px,#00ff03 143px,#00ff7f 169px,#00ffc1 181px)"></i><i style="top:120px;background:linear-gradient(90deg,#a4ff00 0px,#c6ff00 26px,#ccff00 52px,#b4ff00 78px,#7cff00 106px,#29ff00 132px,#00ff02 143px,#00ff7d 169px,#00ffc0 181px)"></i><i style="top:122px;background:linear-gradient(90deg,#a4ff00 0px,#c6ff00 26px,#ccff00 52px,#b5ff00 78px,#7fff00 105px,#2eff00 131px,#00ff01 143px,#00ff7c 169px,#00ffbf 181px)"></i><i style="top:124px;background:linear-gradient(90deg,#a4ff00 0px,#c7ff00 27px,#cbff00 53px,#b4ff00 79px,#7dff00 106px,#2bff00 132px,#00ff01 143px,#00ff7b 169px,#00ffbd 181px)"></i><i style="top:126px;background:linear-gradient(90deg,#a3ff00 0px,#c6ff00 26px,#ccff00 52px,#b4ff00 79px,#7bff00 107px,#24ff00 134px,#00ff04 144px,#00ff7f 170px,#00ffbc 181px)"></i><i style="top:128px;background:linear-gradient(90deg,#a3ff00 0px,#c5ff00 26px,#ccff00 51px,#b7ff00 77px,#85ff00 103px,#37ff00 129px,#00ff03 144px,#00ff7f 170px,#00ffbb 181px)"></i><i style="top:130px;background:linear-gradient(90deg,#a2ff00 0px,#c6ff00 27px,#cbff00 54px,#aeff00 83px,#76ff00 109px,#21ff00 135px,#00ff03 144px,#00ff73 168px,#00ffba 181px)"></i><i style="top:132px;background:linear-gradient(90deg,#a1ff00 0px,#c4ff00 25px,#cbff00 51px,#b7ff00 77px,#85ff00 103px,#34ff00 130px,#00ff02 144px,#00ff82 171px,#00ffba 181px)"></i><i style="top:134px;background:linear-gradient(90deg,#a0ff00 0px,#c4ff00 26px,#cbff00 52px,#b4ff00 79px,#7eff00 106px,#2dff00 132px,#00ff02 144px,#00ff77 169px,#00ffb9 181px)"></i><i style="top:136px;background:linear-gradient(90deg,#9fff00 0px,#c3ff00 26px,#caff00 52px,#b5ff00 78px,#79ff00 108px,#26ff00 134px,#00ff02 144px,#00ff7c 170px,#00ffb8 181px)"></i><i style="top:138px;background:linear-gradient(90deg,#9eff00 0px,#c2ff00 26px,#caff00 51px,#b6ff00 77px,#83ff00 104px,#31ff00 131px,#00ff02 144px,#00ff76 169px,#00ffb8 181px)"></i><i style="top:140px;background:linear-gradient(90deg,#9dff00 0px,#c1ff00 26px,#c9ff00 52px,#b4ff00 78px,#85ff00 103px,#31ff00 131px,#00ff01 144px,#00ff7b 170px,#00ffb8 181px)"></i><i style="top:142px;background:linear-gradient(90deg,#9cff00 0px,#c1ff00 27px,#c8ff00 53px,#b2ff00 79px,#78ff00 108px,#26ff00 134px,#00ff02 144px,#00ff7b 170px,#00ffb7 181px)"></i><i style="top:144px;background:linear-gradient(90deg,#9aff00 0px,#beff00 25px,#c7ff00 50px,#b6ff00 75px,#89ff00 101px,#3bff00 128px,#00ff02 144px,#00ff80 171px,#00ffb7 181px)"></i><i style="top:146px;background:linear-gradient(90deg,#99ff00 0px,#bfff00 27px,#c6ff00 53px,#b0ff00 79px,#81ff00 104px,#30ff00 131px,#00ff02 144px,#00ff80 171px,#00ffb7 181px)"></i><i style="top:148px;background:linear-gradient(90deg,#97ff00 0px,#bbff00 25px,#c5ff00 51px,#b2ff00 77px,#83ff00 103px,#2cff00 132px,#00ff02 144px,#00ff7b 170px,#00ffb7 181px)"></i><i style="top:150px;background:linear-gradient(90deg,#96ff00 0px,#bcff00 27px,#c3ff00 53px,#b0ff00 78px,#7dff00 105px,#2fff00 131px,#00ff03 144px,#00ff76 169px,#00ffb7 181px)"></i><i style="top:152px;background:linear-gradient(90deg,#94ff00 0px,#b8ff00 25px,#c3ff00 50px,#afff00 78px,#7aff00 106px,#2bff00 132px,#00ff03 144px,#00ff81 171px,#00ffb8 181px)"></i><i style="top:154px;background:linear-gradient(90deg,#92ff00 0px,#b8ff00 26px,#c1ff00 53px,#abff00 80px,#71ff00 109px,#1fff00 135px,#00ff04 144px,#00ff7c 170px,#00ffb8 181px)"></i><i style="top:156px;background:linear-gradient(90deg,#90ff00 0px,#b7ff00 27px,#bfff00 54px,#a9ff00 80px,#78ff00 106px,#26ff00 133px,#00ff01 143px,#00ff73 168px,#00ffb8 181px)"></i><i style="top:158px;background:linear-gradient(90deg,#8eff00 0px,#b5ff00 27px,#bdff00 53px,#abff00 78px,#79ff00 105px,#25ff00 133px,#00ff02 143px,#00ff78 169px,#00ffb9 181px)"></i><i style="top:160px;background:linear-gradient(90deg,#8cff00 0px,#b3ff00 27px,#bcff00 53px,#a7ff00 80px,#6bff00 110px,#19ff00 136px,#00ff03 143px,#00ff74 168px,#00ffba 181px)"></i><i style="top:162px;background:linear-gradient(90deg,#89ff00 0px,#b0ff00 26px,#baff00 52px,#a8ff00 78px,#78ff00 104px,#2dff00 130px,#00ff04 143px,#00ff75 168px,#00ffba 181px)"></i><i style="top:164px;background:linear-gradient(90deg,#87ff00 0px,#afff00 27px,#b8ff00 54px,#a2ff00 81px,#66ff00 111px,#0fff00 138px,#00ff05 143px,#00ff76 168px,#00ffbb 181px)"></i><i style="top:166px;background:linear-gradient(90deg,#84ff00 0px,#acff00 26px,#b6ff00 54px,#a1ff00 80px,#71ff00 106px,#20ff00 133px,#00ff02 142px,#00ff77 168px,#00ffbc 181px)"></i><i style="top:168px;background:linear-gradient(90deg,#82ff00 0px,#a9ff00 26px,#b4ff00 52px,#a2ff00 78px,#74ff00 104px,#29ff00 130px,#00ff03 142px,#00ff7d 169px,#00ffbd 181px)"></i><i style="top:170px;background:linear-gradient(90deg,#7fff00 0px,#a9ff00 28px,#b1ff00 56px,#9bff00 82px,#61ff00 111px,#0eff00 137px,#00ff05 142px,#00ff83 170px,#00ffbe 181px)"></i><i style="top:172px;background:linear-gradient(90deg,#7cff00 0px,#a3ff00 25px,#afff00 50px,#a1ff00 75px,#77ff00 101px,#30ff00 127px,#00ff03 141px,#00ff71 166px,#00ffc0 181px)"></i><i style="top:174px;background:linear-gradient(90deg,#79ff00 0px,#9fff00 24px,#adff00 49px,#9fff00 75px,#75ff00 101px,#2eff00 127px,#00ff04 141px,#00ff7c 168px,#00ffc1 181px)"></i><i style="top:176px;background:linear-gradient(90deg,#76ff00 0px,#9eff00 25px,#aaff00 51px,#9cff00 76px,#70ff00 102px,#29ff00 128px,#00ff02 140px,#00ff74 166px,#00ffc2 181px)"></i><i style="top:178px;background:linear-gradient(90deg,#73ff00 0px,#9bff00 25px,#a8ff00 52px,#96ff00 79px,#67ff00 105px,#20ff00 130px,#00ff04 140px,#00ff7a 167px,#00ffc4 181px)"></i><i style="top:180px;background:linear-gradient(90deg,#70ff00 0px,#99ff00 26px,#a5ff00 53px,#93ff00 79px,#65ff00 105px,#17ff00 132px,#00ff02 139px,#00ff77 166px,#00ffc6 181px)"></i></div>
<svg width="685" height="496" viewBox="0 0 685 496">
<text x="6.4" y="17.8" style="font-family:'Liberation Serif',serif" font-weight="bold" font-size="19.4" textLength="20.8" lengthAdjust="spacingAndGlyphs" fill="#111">(a)</text>
<text x="3.4" y="276.6" style="font-family:'Liberation Serif',serif" font-weight="bold" font-size="19.3" textLength="22.2" lengthAdjust="spacingAndGlyphs" fill="#111">(b)</text>
<rect x="44.3" y="13.6" width="182.3" height="183.7" fill="none" stroke="#6e6e6e" stroke-width="1.3"/>
<line x1="39.9" y1="188.5" x2="44.3" y2="188.5" stroke="#6e6e6e" stroke-width="1.10"/>
<text x="38.4" y="191.2" font-size="7.60" text-anchor="end" font-weight="normal" fill="#1c1c1c" textLength="3.6" lengthAdjust="spacingAndGlyphs" stroke="#1c1c1c" stroke-width="0.2">0</text>
<line x1="39.9" y1="155.3" x2="44.3" y2="155.3" stroke="#6e6e6e" stroke-width="1.10"/>
<text x="38.4" y="158.0" font-size="7.60" text-anchor="end" font-weight="normal" fill="#1c1c1c" textLength="9.0" lengthAdjust="spacingAndGlyphs" stroke="#1c1c1c" stroke-width="0.2">0.2</text>
<line x1="39.9" y1="122.0" x2="44.3" y2="122.0" stroke="#6e6e6e" stroke-width="1.10"/>
<text x="38.4" y="124.7" font-size="7.60" text-anchor="end" font-weight="normal" fill="#1c1c1c" textLength="9.0" lengthAdjust="spacingAndGlyphs" stroke="#1c1c1c" stroke-width="0.2">0.4</text>
<line x1="39.9" y1="88.8" x2="44.3" y2="88.8" stroke="#6e6e6e" stroke-width="1.10"/>
<text x="38.4" y="91.5" font-size="7.60" text-anchor="end" font-weight="normal" fill="#1c1c1c" textLength="9.0" lengthAdjust="spacingAndGlyphs" stroke="#1c1c1c" stroke-width="0.2">0.6</text>
<line x1="39.9" y1="55.5" x2="44.3" y2="55.5" stroke="#6e6e6e" stroke-width="1.10"/>
<text x="38.4" y="58.2" font-size="7.60" text-anchor="end" font-weight="normal" fill="#1c1c1c" textLength="9.0" lengthAdjust="spacingAndGlyphs" stroke="#1c1c1c" stroke-width="0.2">0.8</text>
<line x1="39.9" y1="22.3" x2="44.3" y2="22.3" stroke="#6e6e6e" stroke-width="1.10"/>
<text x="38.4" y="25.0" font-size="7.60" text-anchor="end" font-weight="normal" fill="#1c1c1c" textLength="3.6" lengthAdjust="spacingAndGlyphs" stroke="#1c1c1c" stroke-width="0.2">1</text>
<line x1="53.4" y1="197.3" x2="53.4" y2="201.5" stroke="#6e6e6e" stroke-width="1.10"/>
<text x="53.4" y="211.0" font-size="7.60" text-anchor="middle" font-weight="normal" fill="#1c1c1c" textLength="18.3" lengthAdjust="spacingAndGlyphs" stroke="#1c1c1c" stroke-width="0.2">-2.000</text>
<line x1="94.4" y1="197.3" x2="94.4" y2="201.5" stroke="#6e6e6e" stroke-width="1.10"/>
<text x="94.4" y="211.0" font-size="7.60" text-anchor="middle" font-weight="normal" fill="#1c1c1c" textLength="18.3" lengthAdjust="spacingAndGlyphs" stroke="#1c1c1c" stroke-width="0.2">-1.000</text>
<line x1="135.4" y1="197.3" x2="135.4" y2="201.5" stroke="#6e6e6e" stroke-width="1.10"/>
<text x="135.4" y="211.0" font-size="7.60" text-anchor="middle" font-weight="normal" fill="#1c1c1c" textLength="16.1" lengthAdjust="spacingAndGlyphs" stroke="#1c1c1c" stroke-width="0.2">0.000</text>
<line x1="176.4" y1="197.3" x2="176.4" y2="201.5" stroke="#6e6e6e" stroke-width="1.10"/>
<text x="176.4" y="211.0" font-size="7.60" text-anchor="middle" font-weight="normal" fill="#1c1c1c" textLength="16.1" lengthAdjust="spacingAndGlyphs" stroke="#1c1c1c" stroke-width="0.2">1.000</text>
<line x1="217.4" y1="197.3" x2="217.4" y2="201.5" stroke="#6e6e6e" stroke-width="1.10"/>
<text x="217.4" y="211.0" font-size="7.60" text-anchor="middle" font-weight="normal" fill="#1c1c1c" textLength="16.1" lengthAdjust="spacingAndGlyphs" stroke="#1c1c1c" stroke-width="0.2">2.000</text>
<text x="135.4" y="223.0" font-size="6.80" text-anchor="middle" font-weight="bold" fill="#222" textLength="144.0" lengthAdjust="spacingAndGlyphs">Deviation from Reference Point (Coded Units)</text>
<text x="135.4" y="10.2" font-size="7.10" text-anchor="middle" font-weight="normal" fill="#1c1c1c" textLength="36.2" lengthAdjust="spacingAndGlyphs" stroke="#1c1c1c" stroke-width="0.2">Perturbation</text>
<text transform="translate(15.6,100.3) rotate(-90)" x="0" y="0" font-size="7.10" text-anchor="middle" font-weight="bold" fill="#222" dominant-baseline="central" textLength="38.7" lengthAdjust="spacingAndGlyphs">Desirability</text>
<rect x="271.3" y="13.6" width="181.5" height="183.7" fill="none" stroke="#6e6e6e" stroke-width="1.3"/>
<line x1="266.9" y1="188.5" x2="271.3" y2="188.5" stroke="#6e6e6e" stroke-width="1.10"/>
<text x="265.4" y="191.2" font-size="7.60" text-anchor="end" font-weight="normal" fill="#1c1c1c" textLength="10.8" lengthAdjust="spacingAndGlyphs" stroke="#1c1c1c" stroke-width="0.2">100</text>
<line x1="266.9" y1="146.9" x2="271.3" y2="146.9" stroke="#6e6e6e" stroke-width="1.10"/>
<text x="265.4" y="149.6" font-size="7.60" text-anchor="end" font-weight="normal" fill="#1c1c1c" textLength="10.8" lengthAdjust="spacingAndGlyphs" stroke="#1c1c1c" stroke-width="0.2">200</text>
<line x1="266.9" y1="105.4" x2="271.3" y2="105.4" stroke="#6e6e6e" stroke-width="1.10"/>
<text x="265.4" y="108.1" font-size="7.60" text-anchor="end" font-weight="normal" fill="#1c1c1c" textLength="10.8" lengthAdjust="spacingAndGlyphs" stroke="#1c1c1c" stroke-width="0.2">300</text>
<line x1="266.9" y1="63.9" x2="271.3" y2="63.9" stroke="#6e6e6e" stroke-width="1.10"/>
<text x="265.4" y="66.6" font-size="7.60" text-anchor="end" font-weight="normal" fill="#1c1c1c" textLength="10.8" lengthAdjust="spacingAndGlyphs" stroke="#1c1c1c" stroke-width="0.2">400</text>
<line x1="266.9" y1="22.3" x2="271.3" y2="22.3" stroke="#6e6e6e" stroke-width="1.10"/>
<text x="265.4" y="25.0" font-size="7.60" text-anchor="end" font-weight="normal" fill="#1c1c1c" textLength="10.8" lengthAdjust="spacingAndGlyphs" stroke="#1c1c1c" stroke-width="0.2">500</text>
<line x1="280.1" y1="197.3" x2="280.1" y2="201.5" stroke="#6e6e6e" stroke-width="1.10"/>
<text x="280.1" y="211.0" font-size="7.60" text-anchor="middle" font-weight="normal" fill="#1c1c1c" textLength="18.3" lengthAdjust="spacingAndGlyphs" stroke="#1c1c1c" stroke-width="0.2">-2.000</text>
<line x1="321.1" y1="197.3" x2="321.1" y2="201.5" stroke="#6e6e6e" stroke-width="1.10"/>
<text x="321.1" y="211.0" font-size="7.60" text-anchor="middle" font-weight="normal" fill="#1c1c1c" textLength="18.3" lengthAdjust="spacingAndGlyphs" stroke="#1c1c1c" stroke-width="0.2">-1.000</text>
<line x1="362.1" y1="197.3" x2="362.1" y2="201.5" stroke="#6e6e6e" stroke-width="1.10"/>
<text x="362.1" y="211.0" font-size="7.60" text-anchor="middle" font-weight="normal" fill="#1c1c1c" textLength="16.1" lengthAdjust="spacingAndGlyphs" stroke="#1c1c1c" stroke-width="0.2">0.000</text>
<line x1="403.1" y1="197.3" x2="403.1" y2="201.5" stroke="#6e6e6e" stroke-width="1.10"/>
<text x="403.1" y="211.0" font-size="7.60" text-anchor="middle" font-weight="normal" fill="#1c1c1c" textLength="16.1" lengthAdjust="spacingAndGlyphs" stroke="#1c1c1c" stroke-width="0.2">1.000</text>
<line x1="444.1" y1="197.3" x2="444.1" y2="201.5" stroke="#6e6e6e" stroke-width="1.10"/>
<text x="444.1" y="211.0" font-size="7.60" text-anchor="middle" font-weight="normal" fill="#1c1c1c" textLength="16.1" lengthAdjust="spacingAndGlyphs" stroke="#1c1c1c" stroke-width="0.2">2.000</text>
<text x="362.1" y="223.0" font-size="6.80" text-anchor="middle" font-weight="bold" fill="#222" textLength="144.0" lengthAdjust="spacingAndGlyphs">Deviation from Reference Point (Coded Units)</text>
<text x="362.1" y="10.2" font-size="7.10" text-anchor="middle" font-weight="normal" fill="#1c1c1c" textLength="36.2" lengthAdjust="spacingAndGlyphs" stroke="#1c1c1c" stroke-width="0.2">Perturbation</text>
<text transform="translate(242.2,98.8) rotate(-90)" x="0" y="0" font-size="7.10" text-anchor="middle" font-weight="bold" fill="#222" dominant-baseline="central" textLength="60.0" lengthAdjust="spacingAndGlyphs">Particle Size (nm)</text>
<rect x="496.9" y="13.6" width="182.1" height="183.7" fill="none" stroke="#6e6e6e" stroke-width="1.3"/>
<line x1="492.5" y1="188.5" x2="496.9" y2="188.5" stroke="#6e6e6e" stroke-width="1.10"/>
<text x="491.0" y="191.2" font-size="7.60" text-anchor="end" font-weight="normal" fill="#1c1c1c" textLength="9.3" lengthAdjust="spacingAndGlyphs" stroke="#1c1c1c" stroke-width="0.2">-60</text>
<line x1="492.5" y1="155.3" x2="496.9" y2="155.3" stroke="#6e6e6e" stroke-width="1.10"/>
<text x="491.0" y="158.0" font-size="7.60" text-anchor="end" font-weight="normal" fill="#1c1c1c" textLength="9.3" lengthAdjust="spacingAndGlyphs" stroke="#1c1c1c" stroke-width="0.2">-50</text>
<line x1="492.5" y1="122.0" x2="496.9" y2="122.0" stroke="#6e6e6e" stroke-width="1.10"/>
<text x="491.0" y="124.7" font-size="7.60" text-anchor="end" font-weight="normal" fill="#1c1c1c" textLength="9.3" lengthAdjust="spacingAndGlyphs" stroke="#1c1c1c" stroke-width="0.2">-40</text>
<line x1="492.5" y1="88.8" x2="496.9" y2="88.8" stroke="#6e6e6e" stroke-width="1.10"/>
<text x="491.0" y="91.5" font-size="7.60" text-anchor="end" font-weight="normal" fill="#1c1c1c" textLength="9.3" lengthAdjust="spacingAndGlyphs" stroke="#1c1c1c" stroke-width="0.2">-30</text>
<line x1="492.5" y1="55.5" x2="496.9" y2="55.5" stroke="#6e6e6e" stroke-width="1.10"/>
<text x="491.0" y="58.2" font-size="7.60" text-anchor="end" font-weight="normal" fill="#1c1c1c" textLength="9.3" lengthAdjust="spacingAndGlyphs" stroke="#1c1c1c" stroke-width="0.2">-20</text>
<line x1="492.5" y1="22.3" x2="496.9" y2="22.3" stroke="#6e6e6e" stroke-width="1.10"/>
<text x="491.0" y="25.0" font-size="7.60" text-anchor="end" font-weight="normal" fill="#1c1c1c" textLength="9.3" lengthAdjust="spacingAndGlyphs" stroke="#1c1c1c" stroke-width="0.2">-10</text>
<line x1="506.0" y1="197.3" x2="506.0" y2="201.5" stroke="#6e6e6e" stroke-width="1.10"/>
<text x="506.0" y="211.0" font-size="7.60" text-anchor="middle" font-weight="normal" fill="#1c1c1c" textLength="18.3" lengthAdjust="spacingAndGlyphs" stroke="#1c1c1c" stroke-width="0.2">-2.000</text>
<line x1="547.0" y1="197.3" x2="547.0" y2="201.5" stroke="#6e6e6e" stroke-width="1.10"/>
<text x="547.0" y="211.0" font-size="7.60" text-anchor="middle" font-weight="normal" fill="#1c1c1c" textLength="18.3" lengthAdjust="spacingAndGlyphs" stroke="#1c1c1c" stroke-width="0.2">-1.000</text>
<line x1="588.0" y1="197.3" x2="588.0" y2="201.5" stroke="#6e6e6e" stroke-width="1.10"/>
<text x="588.0" y="211.0" font-size="7.60" text-anchor="middle" font-weight="normal" fill="#1c1c1c" textLength="16.1" lengthAdjust="spacingAndGlyphs" stroke="#1c1c1c" stroke-width="0.2">0.000</text>
<line x1="629.0" y1="197.3" x2="629.0" y2="201.5" stroke="#6e6e6e" stroke-width="1.10"/>
<text x="629.0" y="211.0" font-size="7.60" text-anchor="middle" font-weight="normal" fill="#1c1c1c" textLength="16.1" lengthAdjust="spacingAndGlyphs" stroke="#1c1c1c" stroke-width="0.2">1.000</text>
<line x1="670.0" y1="197.3" x2="670.0" y2="201.5" stroke="#6e6e6e" stroke-width="1.10"/>
<text x="670.0" y="211.0" font-size="7.60" text-anchor="middle" font-weight="normal" fill="#1c1c1c" textLength="16.1" lengthAdjust="spacingAndGlyphs" stroke="#1c1c1c" stroke-width="0.2">2.000</text>
<text x="588.0" y="223.0" font-size="6.80" text-anchor="middle" font-weight="bold" fill="#222" textLength="144.0" lengthAdjust="spacingAndGlyphs">Deviation from Reference Point (Coded Units)</text>
<text x="588.0" y="10.2" font-size="7.10" text-anchor="middle" font-weight="normal" fill="#1c1c1c" textLength="36.2" lengthAdjust="spacingAndGlyphs" stroke="#1c1c1c" stroke-width="0.2">Perturbation</text>
<text transform="translate(468.3,101.0) rotate(-90)" x="0" y="0" font-size="7.10" text-anchor="middle" font-weight="bold" fill="#222" dominant-baseline="central" textLength="71.0" lengthAdjust="spacingAndGlyphs">Zeta Potential (mV)</text>
<path d="M53.90,96.20 C55.43,95.92 59.37,95.65 63.10,94.50 C66.83,93.35 71.92,91.48 76.30,89.30 C80.68,87.12 85.02,84.25 89.40,81.40 C93.78,78.55 98.22,75.60 102.60,72.20 C106.98,68.80 111.33,64.72 115.70,61.00 C120.07,57.28 125.50,52.52 128.80,49.90 C132.10,47.28 134.38,46.07 135.50,45.30" stroke="#62b862" stroke-width="1.05" fill="none"/>
<path d="M74.30,63.90 C76.82,62.65 84.68,58.37 89.40,56.40 C94.12,54.43 98.22,53.48 102.60,52.10 C106.98,50.72 111.33,49.13 115.70,48.10 C120.07,47.07 125.50,46.38 128.80,45.90 C132.10,45.42 132.72,45.13 135.50,45.20 C138.28,45.27 142.20,45.68 145.50,46.30 C148.80,46.92 153.67,48.47 155.30,48.90" stroke="#5656b4" stroke-width="1.05" fill="none"/>
<path d="M135.50,45.20 C138.80,45.77 149.48,46.85 155.30,48.60 C161.12,50.35 165.37,52.75 170.40,55.70 C175.43,58.65 180.47,62.52 185.50,66.30 C190.53,70.08 195.30,73.62 200.60,78.40 C205.90,83.18 214.52,92.23 217.30,95.00" stroke="#a8a8a8" stroke-width="1.05" fill="none"/>
<path d="M280.10,133.01 L282.20,135.57 L284.31,138.02 L286.41,140.36 L288.51,142.59 L290.61,144.71 L292.72,146.73 L294.82,148.63 L296.92,150.42 L299.02,152.10 L301.13,153.68 L303.23,155.14 L305.33,156.50 L307.43,157.75 L309.54,158.88 L311.64,159.91 L313.74,160.83 L315.84,161.63 L317.95,162.33 L320.05,162.92 L322.15,163.40 L324.25,163.77 L326.36,164.03 L328.46,164.18 L330.56,164.22 L332.66,164.15 L334.77,163.98 L336.87,163.69 L338.97,163.29 L341.07,162.78 L343.18,162.17 L345.28,161.44 L347.38,160.61 L349.48,159.66 L351.59,158.61 L353.69,157.45 L355.79,156.17 L357.89,154.79 L360.00,153.30 L362.10,151.70" stroke="#62b862" stroke-width="1.05" fill="none"/>
<path d="M300.20,139.27 L302.29,141.96 L304.38,144.49 L306.48,146.87 L308.57,149.08 L310.66,151.14 L312.75,153.04 L314.85,154.77 L316.94,156.35 L319.03,157.77 L321.12,159.03 L323.22,160.14 L325.31,161.08 L327.40,161.86 L329.49,162.49 L331.58,162.95 L333.68,163.26 L335.77,163.41 L337.86,163.40 L339.95,163.23 L342.05,162.90 L344.14,162.41 L346.23,161.76 L348.32,160.96 L350.42,159.99 L352.51,158.87 L354.60,157.59 L356.69,156.14 L358.78,154.54 L360.88,152.78 L362.97,150.86 L365.06,148.79 L367.15,146.55 L369.25,144.15 L371.34,141.60 L373.43,138.89 L375.52,136.01 L377.62,132.98 L379.71,129.79 L381.80,126.44" stroke="#5656b4" stroke-width="1.05" fill="none"/>
<path d="M362.10,151.70 L364.19,151.58 L366.28,151.39 L368.38,151.13 L370.47,150.80 L372.56,150.39 L374.65,149.91 L376.75,149.35 L378.84,148.72 L380.93,148.02 L383.02,147.25 L385.12,146.40 L387.21,145.48 L389.30,144.49 L391.39,143.42 L393.48,142.29 L395.58,141.07 L397.67,139.79 L399.76,138.43 L401.85,137.00 L403.95,135.49 L406.04,133.92 L408.13,132.27 L410.22,130.54 L412.32,128.75 L414.41,126.88 L416.50,124.93 L418.59,122.92 L420.68,120.83 L422.78,118.67 L424.87,116.43 L426.96,114.12 L429.05,111.74 L431.15,109.29 L433.24,106.76 L435.33,104.16 L437.42,101.49 L439.52,98.74 L441.61,95.92 L443.70,93.03" stroke="#a8a8a8" stroke-width="1.05" fill="none"/>
<path d="M506.10,103.84 L508.20,102.75 L510.31,101.80 L512.41,100.97 L514.51,100.27 L516.61,99.71 L518.72,99.27 L520.82,98.96 L522.92,98.78 L525.02,98.73 L527.13,98.81 L529.23,99.02 L531.33,99.36 L533.43,99.83 L535.54,100.42 L537.64,101.15 L539.74,102.01 L541.84,102.99 L543.95,104.11 L546.05,105.35 L548.15,106.72 L550.25,108.23 L552.36,109.86 L554.46,111.62 L556.56,113.51 L558.66,115.53 L560.77,117.68 L562.87,119.96 L564.97,122.37 L567.07,124.91 L569.18,127.58 L571.28,130.37 L573.38,133.30 L575.48,136.35 L577.59,139.54 L579.69,142.85 L581.79,146.30 L583.89,149.87 L586.00,153.57 L588.10,157.40" stroke="#62b862" stroke-width="1.05" fill="none"/>
<path d="M526.30,139.56 L528.40,139.17 L530.50,138.84 L532.60,138.59 L534.70,138.41 L536.80,138.30 L538.90,138.25 L541.00,138.28 L543.10,138.38 L545.20,138.55 L547.30,138.79 L549.40,139.10 L551.50,139.48 L553.60,139.93 L555.70,140.45 L557.80,141.04 L559.90,141.70 L562.00,142.44 L564.10,143.24 L566.20,144.11 L568.30,145.05 L570.40,146.07 L572.50,147.15 L574.60,148.30 L576.70,149.53 L578.80,150.82 L580.90,152.19 L583.00,153.62 L585.10,155.13 L587.20,156.70 L589.30,158.35 L591.40,160.06 L593.50,161.85 L595.60,163.71 L597.70,165.63 L599.80,167.63 L601.90,169.70 L604.00,171.83 L606.10,174.04 L608.20,176.32" stroke="#5656b4" stroke-width="1.05" fill="none"/>
<path d="M588.10,157.40 L590.19,157.01 L592.27,156.61 L594.36,156.21 L596.45,155.81 L598.54,155.40 L600.62,154.99 L602.71,154.57 L604.80,154.16 L606.88,153.73 L608.97,153.31 L611.06,152.88 L613.15,152.45 L615.23,152.01 L617.32,151.57 L619.41,151.12 L621.49,150.68 L623.58,150.23 L625.67,149.77 L627.76,149.31 L629.84,148.85 L631.93,148.38 L634.02,147.91 L636.11,147.44 L638.19,146.96 L640.28,146.48 L642.37,146.00 L644.45,145.51 L646.54,145.02 L648.63,144.53 L650.72,144.03 L652.80,143.52 L654.89,143.02 L656.98,142.51 L659.06,142.00 L661.15,141.48 L663.24,140.96 L665.33,140.43 L667.41,139.91 L669.50,139.37" stroke="#a8a8a8" stroke-width="1.05" fill="none"/>
<circle cx="135.6" cy="45.2" r="2.2" fill="#000"/>
<circle cx="362.1" cy="151.8" r="2.2" fill="#000"/>
<circle cx="588.1" cy="157.4" r="2.2" fill="#000"/>
<text x="53.1" y="93.9" font-size="11.5" fill="#3aa83a">A</text>
<text x="73.0" y="61.7" font-size="11.5" fill="#3333cc">B</text>
<text x="128.1" y="42.9" font-size="11.5" fill="#3aa83a">A</text>
<text x="140.3" y="43.6" font-size="11.5" fill="#8a8a8a">C</text>
<text x="147.8" y="46.6" font-size="11.5" fill="#3333cc">B</text>
<text x="209.1" y="92.8" font-size="11.5" fill="#8a8a8a">C</text>
<text x="279.4" y="130.0" font-size="11.5" fill="#3aa83a">A</text>
<text x="299.6" y="137.5" font-size="11.5" fill="#3333cc">B</text>
<text x="354.1" y="149.6" font-size="11.5" fill="#3aa83a">A</text>
<text x="366.6" y="147.2" font-size="11.5" fill="#8a8a8a">C</text>
<text x="374.2" y="124.0" font-size="11.5" fill="#3333cc">B</text>
<text x="435.0" y="90.2" font-size="11.5" fill="#8a8a8a">C</text>
<text x="505.4" y="101.2" font-size="11.5" fill="#3aa83a">A</text>
<text x="525.7" y="137.5" font-size="11.5" fill="#3333cc">B</text>
<text x="580.7" y="154.6" font-size="11.5" fill="#3aa83a">A</text>
<text x="593.1" y="154.0" font-size="11.5" fill="#8a8a8a">C</text>
<text x="601.2" y="173.4" font-size="11.5" fill="#3333cc">B</text>
<text x="662.4" y="137.0" font-size="11.5" fill="#8a8a8a">C</text>
<line x1="40.1" y1="465.2" x2="44.5" y2="465.2" stroke="#6e6e6e" stroke-width="1.10"/>
<text x="38.6" y="467.9" font-size="7.60" text-anchor="end" font-weight="normal" fill="#1c1c1c" textLength="3.6" lengthAdjust="spacingAndGlyphs" stroke="#1c1c1c" stroke-width="0.2">2</text>
<line x1="40.1" y1="434.9" x2="44.5" y2="434.9" stroke="#6e6e6e" stroke-width="1.10"/>
<text x="38.6" y="437.6" font-size="7.60" text-anchor="end" font-weight="normal" fill="#1c1c1c" textLength="3.6" lengthAdjust="spacingAndGlyphs" stroke="#1c1c1c" stroke-width="0.2">3</text>
<line x1="40.1" y1="404.6" x2="44.5" y2="404.6" stroke="#6e6e6e" stroke-width="1.10"/>
<text x="38.6" y="407.3" font-size="7.60" text-anchor="end" font-weight="normal" fill="#1c1c1c" textLength="3.6" lengthAdjust="spacingAndGlyphs" stroke="#1c1c1c" stroke-width="0.2">4</text>
<line x1="40.1" y1="374.3" x2="44.5" y2="374.3" stroke="#6e6e6e" stroke-width="1.10"/>
<text x="38.6" y="377.0" font-size="7.60" text-anchor="end" font-weight="normal" fill="#1c1c1c" textLength="3.6" lengthAdjust="spacingAndGlyphs" stroke="#1c1c1c" stroke-width="0.2">5</text>
<line x1="40.1" y1="344.0" x2="44.5" y2="344.0" stroke="#6e6e6e" stroke-width="1.10"/>
<text x="38.6" y="346.7" font-size="7.60" text-anchor="end" font-weight="normal" fill="#1c1c1c" textLength="3.6" lengthAdjust="spacingAndGlyphs" stroke="#1c1c1c" stroke-width="0.2">6</text>
<line x1="40.1" y1="313.7" x2="44.5" y2="313.7" stroke="#6e6e6e" stroke-width="1.10"/>
<text x="38.6" y="316.4" font-size="7.60" text-anchor="end" font-weight="normal" fill="#1c1c1c" textLength="3.6" lengthAdjust="spacingAndGlyphs" stroke="#1c1c1c" stroke-width="0.2">7</text>
<line x1="40.1" y1="283.4" x2="44.5" y2="283.4" stroke="#6e6e6e" stroke-width="1.10"/>
<text x="38.6" y="286.1" font-size="7.60" text-anchor="end" font-weight="normal" fill="#1c1c1c" textLength="3.6" lengthAdjust="spacingAndGlyphs" stroke="#1c1c1c" stroke-width="0.2">8</text>
<line x1="44.5" y1="465.2" x2="44.5" y2="469.4" stroke="#6e6e6e" stroke-width="1.10"/>
<text x="44.5" y="478.7" font-size="7.60" text-anchor="middle" font-weight="normal" fill="#1c1c1c" textLength="7.2" lengthAdjust="spacingAndGlyphs" stroke="#1c1c1c" stroke-width="0.2">20</text>
<line x1="80.7" y1="465.2" x2="80.7" y2="469.4" stroke="#6e6e6e" stroke-width="1.10"/>
<text x="80.7" y="478.7" font-size="7.60" text-anchor="middle" font-weight="normal" fill="#1c1c1c" textLength="7.2" lengthAdjust="spacingAndGlyphs" stroke="#1c1c1c" stroke-width="0.2">26</text>
<line x1="117.0" y1="465.2" x2="117.0" y2="469.4" stroke="#6e6e6e" stroke-width="1.10"/>
<text x="117.0" y="478.7" font-size="7.60" text-anchor="middle" font-weight="normal" fill="#1c1c1c" textLength="7.2" lengthAdjust="spacingAndGlyphs" stroke="#1c1c1c" stroke-width="0.2">32</text>
<line x1="153.2" y1="465.2" x2="153.2" y2="469.4" stroke="#6e6e6e" stroke-width="1.10"/>
<text x="153.2" y="478.7" font-size="7.60" text-anchor="middle" font-weight="normal" fill="#1c1c1c" textLength="7.2" lengthAdjust="spacingAndGlyphs" stroke="#1c1c1c" stroke-width="0.2">38</text>
<line x1="189.5" y1="465.2" x2="189.5" y2="469.4" stroke="#6e6e6e" stroke-width="1.10"/>
<text x="189.5" y="478.7" font-size="7.60" text-anchor="middle" font-weight="normal" fill="#1c1c1c" textLength="7.2" lengthAdjust="spacingAndGlyphs" stroke="#1c1c1c" stroke-width="0.2">44</text>
<line x1="225.7" y1="465.2" x2="225.7" y2="469.4" stroke="#6e6e6e" stroke-width="1.10"/>
<text x="225.7" y="478.7" font-size="7.60" text-anchor="middle" font-weight="normal" fill="#1c1c1c" textLength="7.2" lengthAdjust="spacingAndGlyphs" stroke="#1c1c1c" stroke-width="0.2">50</text>
<text x="135.1" y="490.2" font-size="6.80" text-anchor="middle" font-weight="bold" fill="#222" textLength="62.0" lengthAdjust="spacingAndGlyphs">A: cholesterol&#160;&#160;(mg)</text>
<text x="135.1" y="280.0" font-size="7.10" text-anchor="middle" font-weight="normal" fill="#1c1c1c" textLength="32.2" lengthAdjust="spacingAndGlyphs" stroke="#1c1c1c" stroke-width="0.2">Desirability</text>
<text transform="translate(15.7,363.3) rotate(-90)" x="0" y="0" font-size="7.10" text-anchor="middle" font-weight="bold" fill="#222" dominant-baseline="central" textLength="94.5" lengthAdjust="spacingAndGlyphs">B: Hyaluronic acid&#160;&#160;(mg/mL)</text>
<line x1="265.7" y1="465.2" x2="270.1" y2="465.2" stroke="#6e6e6e" stroke-width="1.10"/>
<text x="264.2" y="467.9" font-size="7.60" text-anchor="end" font-weight="normal" fill="#1c1c1c" textLength="3.6" lengthAdjust="spacingAndGlyphs" stroke="#1c1c1c" stroke-width="0.2">2</text>
<line x1="265.7" y1="434.9" x2="270.1" y2="434.9" stroke="#6e6e6e" stroke-width="1.10"/>
<text x="264.2" y="437.6" font-size="7.60" text-anchor="end" font-weight="normal" fill="#1c1c1c" textLength="3.6" lengthAdjust="spacingAndGlyphs" stroke="#1c1c1c" stroke-width="0.2">3</text>
<line x1="265.7" y1="404.6" x2="270.1" y2="404.6" stroke="#6e6e6e" stroke-width="1.10"/>
<text x="264.2" y="407.3" font-size="7.60" text-anchor="end" font-weight="normal" fill="#1c1c1c" textLength="3.6" lengthAdjust="spacingAndGlyphs" stroke="#1c1c1c" stroke-width="0.2">4</text>
<line x1="265.7" y1="374.3" x2="270.1" y2="374.3" stroke="#6e6e6e" stroke-width="1.10"/>
<text x="264.2" y="377.0" font-size="7.60" text-anchor="end" font-weight="normal" fill="#1c1c1c" textLength="3.6" lengthAdjust="spacingAndGlyphs" stroke="#1c1c1c" stroke-width="0.2">5</text>
<line x1="265.7" y1="344.0" x2="270.1" y2="344.0" stroke="#6e6e6e" stroke-width="1.10"/>
<text x="264.2" y="346.7" font-size="7.60" text-anchor="end" font-weight="normal" fill="#1c1c1c" textLength="3.6" lengthAdjust="spacingAndGlyphs" stroke="#1c1c1c" stroke-width="0.2">6</text>
<line x1="265.7" y1="313.7" x2="270.1" y2="313.7" stroke="#6e6e6e" stroke-width="1.10"/>
<text x="264.2" y="316.4" font-size="7.60" text-anchor="end" font-weight="normal" fill="#1c1c1c" textLength="3.6" lengthAdjust="spacingAndGlyphs" stroke="#1c1c1c" stroke-width="0.2">7</text>
<line x1="265.7" y1="283.4" x2="270.1" y2="283.4" stroke="#6e6e6e" stroke-width="1.10"/>
<text x="264.2" y="286.1" font-size="7.60" text-anchor="end" font-weight="normal" fill="#1c1c1c" textLength="3.6" lengthAdjust="spacingAndGlyphs" stroke="#1c1c1c" stroke-width="0.2">8</text>
<line x1="270.1" y1="465.2" x2="270.1" y2="469.4" stroke="#6e6e6e" stroke-width="1.10"/>
<text x="270.1" y="478.7" font-size="7.60" text-anchor="middle" font-weight="normal" fill="#1c1c1c" textLength="7.2" lengthAdjust="spacingAndGlyphs" stroke="#1c1c1c" stroke-width="0.2">20</text>
<line x1="306.3" y1="465.2" x2="306.3" y2="469.4" stroke="#6e6e6e" stroke-width="1.10"/>
<text x="306.3" y="478.7" font-size="7.60" text-anchor="middle" font-weight="normal" fill="#1c1c1c" textLength="7.2" lengthAdjust="spacingAndGlyphs" stroke="#1c1c1c" stroke-width="0.2">26</text>
<line x1="342.6" y1="465.2" x2="342.6" y2="469.4" stroke="#6e6e6e" stroke-width="1.10"/>
<text x="342.6" y="478.7" font-size="7.60" text-anchor="middle" font-weight="normal" fill="#1c1c1c" textLength="7.2" lengthAdjust="spacingAndGlyphs" stroke="#1c1c1c" stroke-width="0.2">32</text>
<line x1="378.8" y1="465.2" x2="378.8" y2="469.4" stroke="#6e6e6e" stroke-width="1.10"/>
<text x="378.8" y="478.7" font-size="7.60" text-anchor="middle" font-weight="normal" fill="#1c1c1c" textLength="7.2" lengthAdjust="spacingAndGlyphs" stroke="#1c1c1c" stroke-width="0.2">38</text>
<line x1="415.1" y1="465.2" x2="415.1" y2="469.4" stroke="#6e6e6e" stroke-width="1.10"/>
<text x="415.1" y="478.7" font-size="7.60" text-anchor="middle" font-weight="normal" fill="#1c1c1c" textLength="7.2" lengthAdjust="spacingAndGlyphs" stroke="#1c1c1c" stroke-width="0.2">44</text>
<line x1="451.3" y1="465.2" x2="451.3" y2="469.4" stroke="#6e6e6e" stroke-width="1.10"/>
<text x="451.3" y="478.7" font-size="7.60" text-anchor="middle" font-weight="normal" fill="#1c1c1c" textLength="7.2" lengthAdjust="spacingAndGlyphs" stroke="#1c1c1c" stroke-width="0.2">50</text>
<text x="360.7" y="490.2" font-size="6.80" text-anchor="middle" font-weight="bold" fill="#222" textLength="62.0" lengthAdjust="spacingAndGlyphs">A: cholesterol&#160;&#160;(mg)</text>
<text x="360.7" y="280.0" font-size="7.10" text-anchor="middle" font-weight="normal" fill="#1c1c1c" textLength="49.7" lengthAdjust="spacingAndGlyphs" stroke="#1c1c1c" stroke-width="0.2">Particle Size (nm)</text>
<text transform="translate(241.3,363.3) rotate(-90)" x="0" y="0" font-size="7.10" text-anchor="middle" font-weight="bold" fill="#222" dominant-baseline="central" textLength="94.5" lengthAdjust="spacingAndGlyphs">B: Hyaluronic acid&#160;&#160;(mg/mL)</text>
<line x1="491.3" y1="465.2" x2="495.7" y2="465.2" stroke="#6e6e6e" stroke-width="1.10"/>
<text x="489.8" y="467.9" font-size="7.60" text-anchor="end" font-weight="normal" fill="#1c1c1c" textLength="3.6" lengthAdjust="spacingAndGlyphs" stroke="#1c1c1c" stroke-width="0.2">2</text>
<line x1="491.3" y1="434.9" x2="495.7" y2="434.9" stroke="#6e6e6e" stroke-width="1.10"/>
<text x="489.8" y="437.6" font-size="7.60" text-anchor="end" font-weight="normal" fill="#1c1c1c" textLength="3.6" lengthAdjust="spacingAndGlyphs" stroke="#1c1c1c" stroke-width="0.2">3</text>
<line x1="491.3" y1="404.6" x2="495.7" y2="404.6" stroke="#6e6e6e" stroke-width="1.10"/>
<text x="489.8" y="407.3" font-size="7.60" text-anchor="end" font-weight="normal" fill="#1c1c1c" textLength="3.6" lengthAdjust="spacingAndGlyphs" stroke="#1c1c1c" stroke-width="0.2">4</text>
<line x1="491.3" y1="374.3" x2="495.7" y2="374.3" stroke="#6e6e6e" stroke-width="1.10"/>
<text x="489.8" y="377.0" font-size="7.60" text-anchor="end" font-weight="normal" fill="#1c1c1c" textLength="3.6" lengthAdjust="spacingAndGlyphs" stroke="#1c1c1c" stroke-width="0.2">5</text>
<line x1="491.3" y1="344.0" x2="495.7" y2="344.0" stroke="#6e6e6e" stroke-width="1.10"/>
<text x="489.8" y="346.7" font-size="7.60" text-anchor="end" font-weight="normal" fill="#1c1c1c" textLength="3.6" lengthAdjust="spacingAndGlyphs" stroke="#1c1c1c" stroke-width="0.2">6</text>
<line x1="491.3" y1="313.7" x2="495.7" y2="313.7" stroke="#6e6e6e" stroke-width="1.10"/>
<text x="489.8" y="316.4" font-size="7.60" text-anchor="end" font-weight="normal" fill="#1c1c1c" textLength="3.6" lengthAdjust="spacingAndGlyphs" stroke="#1c1c1c" stroke-width="0.2">7</text>
<line x1="491.3" y1="283.4" x2="495.7" y2="283.4" stroke="#6e6e6e" stroke-width="1.10"/>
<text x="489.8" y="286.1" font-size="7.60" text-anchor="end" font-weight="normal" fill="#1c1c1c" textLength="3.6" lengthAdjust="spacingAndGlyphs" stroke="#1c1c1c" stroke-width="0.2">8</text>
<line x1="495.7" y1="465.2" x2="495.7" y2="469.4" stroke="#6e6e6e" stroke-width="1.10"/>
<text x="495.7" y="478.7" font-size="7.60" text-anchor="middle" font-weight="normal" fill="#1c1c1c" textLength="7.2" lengthAdjust="spacingAndGlyphs" stroke="#1c1c1c" stroke-width="0.2">20</text>
<line x1="531.9" y1="465.2" x2="531.9" y2="469.4" stroke="#6e6e6e" stroke-width="1.10"/>
<text x="531.9" y="478.7" font-size="7.60" text-anchor="middle" font-weight="normal" fill="#1c1c1c" textLength="7.2" lengthAdjust="spacingAndGlyphs" stroke="#1c1c1c" stroke-width="0.2">26</text>
<line x1="568.2" y1="465.2" x2="568.2" y2="469.4" stroke="#6e6e6e" stroke-width="1.10"/>
<text x="568.2" y="478.7" font-size="7.60" text-anchor="middle" font-weight="normal" fill="#1c1c1c" textLength="7.2" lengthAdjust="spacingAndGlyphs" stroke="#1c1c1c" stroke-width="0.2">32</text>
<line x1="604.4" y1="465.2" x2="604.4" y2="469.4" stroke="#6e6e6e" stroke-width="1.10"/>
<text x="604.4" y="478.7" font-size="7.60" text-anchor="middle" font-weight="normal" fill="#1c1c1c" textLength="7.2" lengthAdjust="spacingAndGlyphs" stroke="#1c1c1c" stroke-width="0.2">38</text>
<line x1="640.7" y1="465.2" x2="640.7" y2="469.4" stroke="#6e6e6e" stroke-width="1.10"/>
<text x="640.7" y="478.7" font-size="7.60" text-anchor="middle" font-weight="normal" fill="#1c1c1c" textLength="7.2" lengthAdjust="spacingAndGlyphs" stroke="#1c1c1c" stroke-width="0.2">44</text>
<line x1="676.9" y1="465.2" x2="676.9" y2="469.4" stroke="#6e6e6e" stroke-width="1.10"/>
<text x="676.9" y="478.7" font-size="7.60" text-anchor="middle" font-weight="normal" fill="#1c1c1c" textLength="7.2" lengthAdjust="spacingAndGlyphs" stroke="#1c1c1c" stroke-width="0.2">50</text>
<text x="586.3" y="490.2" font-size="6.80" text-anchor="middle" font-weight="bold" fill="#222" textLength="62.0" lengthAdjust="spacingAndGlyphs">A: cholesterol&#160;&#160;(mg)</text>
<text x="586.3" y="280.0" font-size="7.10" text-anchor="middle" font-weight="normal" fill="#1c1c1c" textLength="56.1" lengthAdjust="spacingAndGlyphs" stroke="#1c1c1c" stroke-width="0.2">Zeta Potential (mV)</text>
<text transform="translate(466.9,363.3) rotate(-90)" x="0" y="0" font-size="7.10" text-anchor="middle" font-weight="bold" fill="#222" dominant-baseline="central" textLength="94.5" lengthAdjust="spacingAndGlyphs">B: Hyaluronic acid&#160;&#160;(mg/mL)</text>
<path d="M88.30,283.40 C88.30,284.88 87.98,289.27 88.30,292.30 C88.62,295.33 89.27,297.90 90.20,301.60 C91.13,305.30 92.20,309.87 93.90,314.50 C95.60,319.13 98.08,324.92 100.40,329.40 C102.72,333.88 105.02,338.32 107.80,341.40 C110.58,344.48 114.32,345.57 117.10,347.90 C119.88,350.23 122.35,353.13 124.50,355.40 C126.65,357.67 128.50,359.73 130.00,361.50 C131.50,363.27 132.13,363.40 133.50,366.00 C134.87,368.60 136.72,372.77 138.20,377.10 C139.68,381.43 141.17,386.67 142.40,392.00 C143.63,397.33 144.98,404.47 145.60,409.10 C146.22,413.73 146.38,414.98 146.10,419.80 C145.82,424.62 143.62,433.02 143.90,438.00 C144.18,442.98 146.45,445.17 147.80,449.70 C149.15,454.23 151.30,462.62 152.00,465.20" stroke="#1e1e1e" stroke-width="1.00" fill="none"/>
<path d="M148.60,283.40 C148.67,286.43 148.53,296.42 149.00,301.60 C149.47,306.78 150.53,310.80 151.40,314.50 C152.27,318.20 152.77,321.02 154.20,323.80 C155.63,326.58 157.32,327.02 160.00,331.20 C162.68,335.38 167.70,344.10 170.30,348.90 C172.90,353.70 174.23,356.98 175.60,360.00 C176.97,363.02 177.43,363.80 178.50,367.00 C179.57,370.20 180.88,374.67 182.00,379.20 C183.12,383.73 184.32,388.50 185.20,394.20 C186.08,399.90 186.77,406.63 187.30,413.40 C187.83,420.17 187.33,429.10 188.40,434.80 C189.47,440.50 191.68,442.53 193.70,447.60 C195.72,452.67 199.37,462.27 200.50,465.20" stroke="#1e1e1e" stroke-width="1.00" fill="none"/>
<path d="M199.00,283.40 C198.50,286.50 196.50,295.78 196.00,302.00 C195.50,308.22 195.17,314.43 196.00,320.70 C196.83,326.97 199.50,334.72 201.00,339.60 C202.50,344.48 203.12,345.60 205.00,350.00 C206.88,354.40 210.13,359.55 212.30,366.00 C214.47,372.45 216.43,382.40 218.00,388.70 C219.57,395.00 220.38,398.42 221.70,403.80 C223.02,409.18 225.20,418.13 225.90,421.00" stroke="#1e1e1e" stroke-width="1.00" fill="none"/>
<path d="M393.7,425.2 L396.2,424.9 L399.2,424.3 L401.2,423.8 L403.3,423.2 L406.3,422.3 L408.3,421.5 L410.3,420.6 L412.3,419.6 L414.3,418.5 L416.3,417.3 L417.8,416.3 L419.3,415.2 L421.3,413.6 L422.7,412.3 L424.3,410.7 L425.6,409.3 L427.3,407.3 L428.3,405.9 L429.4,404.3 L430.6,402.3 L431.6,400.3 L432.5,398.3 L433.3,396.3 L434.2,393.3 L434.7,391.3 L435.2,388.3 L435.4,386.3 L435.5,383.3 L435.3,380.3 L435.1,378.3 L434.6,375.3 L434.1,373.3 L433.3,370.8 L432.3,368.3 L431.4,366.3 L430.4,364.3 L429.3,362.4 L428.3,360.9 L427.2,359.3 L425.6,357.3 L424.3,355.7 L423.0,354.3 L421.3,352.7 L419.8,351.3 L418.3,350.0 L416.3,348.5 L414.6,347.3 L413.0,346.3 L411.3,345.3 L409.3,344.2 L407.3,343.2 L405.2,342.3 L402.8,341.3 L400.2,340.5 L398.2,339.9 L396.2,339.3 L393.2,338.7 L391.2,338.3 L388.2,338.0 L385.2,337.7 L382.2,337.6 L379.2,337.7 L376.2,338.0 L373.2,338.3 L371.2,338.7 L368.3,339.3 L366.2,339.9 L364.2,340.5 L362.0,341.3 L359.6,342.3 L357.5,343.3 L355.6,344.3 L353.9,345.3 L352.2,346.4 L350.2,347.8 L348.3,349.3 L347.2,350.3 L345.2,352.2 L344.1,353.3 L342.4,355.3 L341.2,356.9 L340.2,358.3 L338.9,360.3 L337.8,362.3 L336.9,364.3 L336.1,366.3 L335.2,369.0 L334.6,371.3 L334.2,373.3 L333.8,376.3 L333.6,379.3 L333.7,382.3 L334.1,385.3 L334.4,387.3 L335.2,390.3 L335.8,392.3 L336.5,394.3 L337.4,396.3 L338.4,398.3 L339.5,400.3 L340.7,402.3 L342.2,404.3 L343.2,405.6 L344.6,407.3 L346.2,409.0 L347.5,410.3 L349.2,411.8 L350.9,413.3 L352.2,414.3 L354.2,415.7 L356.2,417.0 L358.2,418.2 L360.2,419.3 L362.2,420.2 L364.2,421.1 L366.2,421.9 L368.2,422.6 L370.2,423.2 L373.2,424.0 L375.2,424.5 L378.2,425.0 L380.2,425.3 L383.2,425.5 L386.2,425.6 L389.2,425.6 L392.2,425.4 L393.7,425.2" stroke="#1e1e1e" stroke-width="1.0" fill="none"/>
<path d="M451.3,316.4 L449.9,315.4 L448.3,314.2 L446.3,312.8 L444.3,311.4 L442.6,310.4 L441.0,309.4 L439.3,308.4 L437.3,307.2 L435.3,306.1 L433.3,305.1 L431.3,304.1 L429.3,303.2 L427.3,302.3 L425.1,301.4 L422.6,300.4 L420.3,299.5 L418.3,298.8 L416.3,298.2 L413.7,297.4 L411.3,296.7 L409.3,296.2 L406.3,295.5 L404.2,295.0 L401.2,294.4 L399.2,294.1 L396.2,293.6 L394.2,293.4 L391.2,293.1 L388.2,292.8 L385.2,292.6 L382.2,292.5 L379.2,292.5 L376.2,292.6 L373.2,292.7 L370.2,292.9 L367.2,293.2 L365.2,293.4 L362.2,293.8 L359.2,294.3 L357.2,294.7 L354.2,295.3 L352.2,295.8 L349.9,296.4 L347.2,297.2 L345.2,297.8 L343.2,298.4 L340.5,299.4 L338.2,300.3 L336.2,301.1 L334.2,301.9 L332.2,302.8 L330.2,303.8 L328.2,304.8 L326.2,305.9 L324.2,307.0 L322.2,308.2 L320.4,309.4 L318.9,310.4 L317.2,311.5 L315.1,313.0 L313.4,314.4 L312.1,315.4 L310.1,317.0 L308.6,318.4 L307.1,319.7 L305.4,321.4 L304.1,322.7 L302.5,324.4 L301.1,325.9 L299.9,327.4 L298.3,329.3 L297.1,330.9 L296.1,332.3 L294.7,334.3 L293.4,336.3 L292.2,338.3 L291.1,340.2 L290.1,342.0 L289.1,344.0 L288.1,346.2 L287.2,348.3 L286.4,350.3 L285.7,352.3 L285.0,354.3 L284.1,357.3 L283.6,359.3 L283.1,361.5 L282.6,364.3 L282.1,367.2 L281.8,369.3 L281.6,372.3 L281.4,375.3 L281.4,378.3 L281.5,381.3 L281.7,384.3 L282.0,387.3 L282.3,389.3 L282.8,392.3 L283.2,394.3 L284.0,397.3 L284.5,399.3 L285.1,401.3 L286.1,404.3 L286.9,406.3 L287.7,408.3 L288.5,410.3 L289.4,412.3 L290.4,414.3 L291.5,416.3 L292.6,418.3 L293.8,420.2 L295.0,422.2 L296.1,423.9 L297.1,425.4 L298.5,427.2 L300.0,429.2 L301.1,430.7 L302.4,432.2 L304.1,434.2 L305.1,435.3 L307.0,437.2 L308.1,438.4 L310.0,440.2 L311.1,441.2 L313.1,443.0 L314.5,444.2 L316.2,445.5 L318.2,447.1 L319.6,448.2 L321.2,449.3 L323.2,450.7 L325.2,452.1 L327.0,453.2 L328.6,454.2 L330.3,455.2 L332.2,456.2 L334.2,457.3 L336.2,458.3 L338.2,459.3 L340.2,460.2 L342.4,461.2 L344.8,462.2 L347.2,463.1 L349.2,463.9 L351.2,464.6 L353.2,465.2" stroke="#1e1e1e" stroke-width="1.0" fill="none"/>
<path d="M424.9,465.2 L427.3,464.4 L429.3,463.7 L431.3,462.9 L433.3,462.1 L435.3,461.2 L437.5,460.2 L439.5,459.2 L441.4,458.2 L443.3,457.2 L445.3,456.0 L447.3,454.8 L449.3,453.6 L451.3,452.2 L451.3,452.2" stroke="#1e1e1e" stroke-width="1.0" fill="none"/>
<path d="M304.5,283.4 L302.9,284.4 L301.1,285.5 L299.1,286.7 L297.1,288.1 L295.3,289.4 L293.9,290.4 L292.1,291.7 L290.1,293.2 L288.7,294.4 L287.1,295.7 L285.2,297.4 L284.1,298.4 L282.1,300.2 L280.9,301.4 L279.1,303.1 L277.9,304.4 L276.1,306.3 L275.1,307.4 L273.4,309.4 L272.1,310.9 L271.0,312.4 L270.1,313.5" stroke="#1e1e1e" stroke-width="1.0" fill="none"/>
<path d="M270.1,440.6 L271.3,442.2 L272.8,444.2 L274.1,445.9 L275.2,447.2 L276.9,449.2 L278.1,450.6 L279.6,452.2 L281.1,453.9 L282.4,455.2 L284.1,456.9 L285.5,458.2 L287.1,459.8 L288.7,461.2 L290.1,462.5 L292.1,464.2 L293.3,465.2 L293.3,465.2" stroke="#1e1e1e" stroke-width="1.0" fill="none"/>
<path d="M495.7,317.5 L497.4,316.4 L499.0,315.4 L500.7,314.3 L502.7,313.2 L504.7,312.2 L506.7,311.3 L509.0,310.4 L511.7,309.4 L513.7,308.8 L515.7,308.2 L518.7,307.6 L520.7,307.2 L523.7,306.8 L526.7,306.6 L529.7,306.5 L532.7,306.6 L535.7,306.8 L538.7,307.2 L540.7,307.5 L543.8,308.2 L545.8,308.7 L548.2,309.4 L550.8,310.2 L552.8,310.9 L554.8,311.7 L556.8,312.6 L558.8,313.5 L560.8,314.5 L562.8,315.6 L564.8,316.8 L566.8,318.0 L568.8,319.3 L570.2,320.4 L571.8,321.5 L573.8,323.0 L575.5,324.4 L576.8,325.5 L578.8,327.2 L580.0,328.4 L581.8,330.1 L583.1,331.3 L584.8,333.1 L585.9,334.3 L587.7,336.3 L588.8,337.7 L590.2,339.3 L591.7,341.3 L592.8,342.7 L594.0,344.3 L595.4,346.3 L596.7,348.3 L597.8,350.0 L598.8,351.7 L599.8,353.3 L601.0,355.3 L602.1,357.3 L603.1,359.3 L604.1,361.3 L605.1,363.3 L606.0,365.3 L606.9,367.3 L607.8,369.4 L608.8,371.9 L609.7,374.3 L610.4,376.3 L611.1,378.3 L611.8,380.5 L612.7,383.3 L613.2,385.3 L613.8,387.5 L614.5,390.3 L615.0,392.3 L615.6,395.3 L616.0,397.3 L616.5,400.3 L616.8,402.8 L617.1,405.3 L617.5,408.3 L617.7,411.3 L617.8,413.3 L618.0,416.3 L618.1,419.3 L618.1,422.2 L618.0,425.2 L617.8,428.2 L617.7,430.2 L617.4,433.2 L617.1,436.2 L616.8,438.2 L616.4,441.2 L615.8,444.1 L615.4,446.2 L614.8,448.7 L614.2,451.2 L613.6,453.2 L612.8,455.9 L612.1,458.2 L611.3,460.2 L610.6,462.2 L609.8,464.2 L609.4,465.2" stroke="#1e1e1e" stroke-width="1.0" fill="none"/>
<path d="M584.5,283.4 L585.9,284.4 L587.8,285.8 L589.8,287.4 L591.0,288.4 L592.8,289.9 L594.5,291.4 L595.8,292.6 L597.8,294.4 L598.8,295.4 L600.8,297.3 L601.9,298.4 L603.8,300.4 L604.8,301.5 L606.5,303.4 L607.8,304.8 L609.2,306.4 L610.8,308.4 L611.8,309.6 L613.2,311.4 L614.8,313.4 L615.8,314.8 L617.0,316.4 L618.4,318.4 L619.8,320.4 L620.8,321.9 L621.8,323.5 L623.0,325.4 L624.3,327.4 L625.5,329.3 L626.7,331.3 L627.8,333.3 L628.8,335.3 L629.8,337.1 L630.8,339.1 L631.9,341.0 L632.9,343.1 L633.9,345.2 L634.8,347.3 L635.7,349.3 L636.6,351.3 L637.4,353.3 L638.2,355.3 L639.0,357.3 L639.9,359.6 L640.8,362.3 L641.5,364.3 L642.2,366.3 L642.9,368.3 L643.8,371.3 L644.4,373.3 L644.9,375.3 L645.7,378.3 L646.2,380.3 L646.9,382.9 L647.4,385.3 L647.9,387.5 L648.4,390.3 L648.9,392.6 L649.3,395.3 L649.8,398.3 L650.1,400.3 L650.5,403.3 L650.8,406.3 L651.0,408.3 L651.3,411.3 L651.5,414.3 L651.7,417.3 L651.8,420.2 L651.9,422.2 L651.9,425.2 L651.9,428.2 L651.9,430.9 L651.8,433.2 L651.7,436.2 L651.5,439.2 L651.2,442.2 L650.9,445.2 L650.7,447.2 L650.3,450.2 L649.9,453.2 L649.6,455.2 L649.1,458.2 L648.7,460.2 L648.1,463.2 L647.6,465.2 L647.6,465.2" stroke="#1e1e1e" stroke-width="1.0" fill="none"/>
<path d="M623.7,283.4 L624.8,284.8 L626.2,286.4 L627.8,288.4 L628.8,289.7 L630.2,291.4 L631.7,293.4 L632.9,295.0 L633.9,296.4 L635.3,298.4 L636.7,300.4 L637.9,302.1 L638.9,303.6 L640.0,305.4 L641.3,307.4 L642.5,309.4 L643.8,311.4 L644.9,313.2 L645.9,315.0 L646.9,316.7 L647.9,318.5 L648.9,320.4 L649.9,322.4 L650.9,324.4 L652.0,326.4 L652.9,328.4 L653.9,330.3 L654.9,332.5 L655.9,334.7 L656.9,336.9 L657.9,339.2 L658.7,341.3 L659.6,343.3 L660.3,345.3 L661.1,347.3 L661.9,349.4 L662.9,352.1 L663.6,354.3 L664.3,356.3 L665.0,358.3 L665.9,361.2 L666.5,363.3 L667.1,365.3 L667.9,368.0 L668.5,370.3 L669.0,372.3 L669.8,375.3 L670.3,377.3 L670.9,380.1 L671.4,382.3 L671.9,384.8 L672.4,387.3 L672.9,390.1 L673.3,392.3 L673.8,395.3 L674.1,397.3 L674.5,400.3 L674.8,403.3 L675.1,405.3 L675.4,408.3 L675.7,411.3 L675.9,414.3 L676.0,416.3 L676.2,419.3 L676.3,422.2 L676.4,425.2 L676.5,428.2 L676.5,431.2 L676.5,434.2 L676.4,437.2 L676.3,440.2 L676.1,443.2 L675.9,446.2 L675.8,448.2 L675.5,451.2 L675.2,454.2 L674.9,456.9 L674.6,459.2 L674.2,462.2 L673.9,464.2 L673.7,465.2" stroke="#1e1e1e" stroke-width="1.0" fill="none"/>
<path d="M649.5,283.4 L650.9,285.4 L651.9,286.9 L652.9,288.4 L654.2,290.4 L655.5,292.4 L656.7,294.4 L657.9,296.2 L658.9,297.9 L659.9,299.6 L660.9,301.4 L662.1,303.4 L663.2,305.4 L664.3,307.4 L665.3,309.4 L666.4,311.4 L667.4,313.4 L668.4,315.4 L669.4,317.4 L670.3,319.4 L671.2,321.4 L672.2,323.4 L673.1,325.4 L673.9,327.4 L674.9,329.6 L675.9,332.0 L676.8,334.3 L676.9,334.5" stroke="#1e1e1e" stroke-width="1.0" fill="none"/>
<path d="M671.8,283.4 L672.9,285.2 L673.9,286.9 L674.9,288.6 L675.9,290.4 L676.9,292.1" stroke="#1e1e1e" stroke-width="1.0" fill="none"/>
<rect x="126.8" y="358.7" width="8.3" height="6.9" fill="#fff" stroke="#333" stroke-width="0.7"/>
<text x="128.0" y="364.1" font-size="5.0" textLength="5.9" lengthAdjust="spacingAndGlyphs" fill="#222">0.6</text>
<rect x="174.5" y="364.3" width="7.9" height="6.4" fill="#fff" stroke="#333" stroke-width="0.7"/>
<text x="175.7" y="369.2" font-size="5.0" textLength="5.5" lengthAdjust="spacingAndGlyphs" fill="#222">0.7</text>
<rect x="202.2" y="349.2" width="8.1" height="6.5" fill="#fff" stroke="#333" stroke-width="0.7"/>
<text x="203.4" y="354.2" font-size="5.0" textLength="5.7" lengthAdjust="spacingAndGlyphs" fill="#222">0.8</text>
<rect x="281.7" y="289.6" width="8.8" height="6.4" fill="#fff" stroke="#333" stroke-width="0.7"/>
<text x="282.9" y="294.5" font-size="5.0" textLength="6.4" lengthAdjust="spacingAndGlyphs" fill="#222">250</text>
<rect x="293.0" y="324.5" width="8.8" height="6.5" fill="#fff" stroke="#333" stroke-width="0.7"/>
<text x="294.2" y="329.5" font-size="5.0" textLength="6.4" lengthAdjust="spacingAndGlyphs" fill="#222">200</text>
<rect x="378.8" y="418.5" width="9.4" height="6.6" fill="#fff" stroke="#333" stroke-width="0.7"/>
<text x="380.0" y="423.6" font-size="5.0" textLength="7.0" lengthAdjust="spacingAndGlyphs" fill="#222">180</text>
<rect x="277.1" y="447.6" width="9.0" height="6.3" fill="#fff" stroke="#333" stroke-width="0.7"/>
<text x="278.3" y="452.4" font-size="5.0" textLength="6.6" lengthAdjust="spacingAndGlyphs" fill="#222">250</text>
<rect x="435.7" y="452.7" width="9.1" height="6.2" fill="#fff" stroke="#333" stroke-width="0.7"/>
<text x="436.9" y="457.4" font-size="5.0" textLength="6.7" lengthAdjust="spacingAndGlyphs" fill="#222">200</text>
<rect x="588.8" y="338.3" width="8.3" height="6.0" fill="#fff" stroke="#333" stroke-width="0.7"/>
<text x="590.0" y="342.8" font-size="5.0" textLength="5.9" lengthAdjust="spacingAndGlyphs" fill="#222">-35</text>
<rect x="632.0" y="348.3" width="8.5" height="6.3" fill="#fff" stroke="#333" stroke-width="0.7"/>
<text x="633.2" y="353.1" font-size="5.0" textLength="6.1" lengthAdjust="spacingAndGlyphs" fill="#222">-40</text>
<rect x="654.6" y="338.4" width="8.7" height="6.1" fill="#fff" stroke="#333" stroke-width="0.7"/>
<text x="655.8" y="343.0" font-size="5.0" textLength="6.3" lengthAdjust="spacingAndGlyphs" fill="#222">-45</text>
<rect x="659.2" y="299.2" width="8.6" height="6.2" fill="#fff" stroke="#333" stroke-width="0.7"/>
<text x="660.4" y="303.9" font-size="5.0" textLength="6.2" lengthAdjust="spacingAndGlyphs" fill="#222">-50</text>
<rect x="182.0" y="313.8" width="43.8" height="7.4" fill="#fff" stroke="#555" stroke-width="0.7"/>
<text x="183.2" y="319.5" font-size="5.6" textLength="41.8" lengthAdjust="spacingAndGlyphs" fill="#222">Desirability&#160;&#160;0.86487</text>
<rect x="409.8" y="313.7" width="41.2" height="7.5" fill="#fff" stroke="#555" stroke-width="0.7"/>
<text x="411.0" y="319.5" font-size="5.6" textLength="39.2" lengthAdjust="spacingAndGlyphs" fill="#222">Prediction&#160;&#160;188.918</text>
<rect x="633.0" y="313.9" width="43.4" height="7.0" fill="#fff" stroke="#555" stroke-width="0.7"/>
<text x="634.2" y="319.2" font-size="5.6" textLength="41.4" lengthAdjust="spacingAndGlyphs" fill="#222">Prediction&#160;&#160;-50.6505</text>
<rect x="44.5" y="283.4" width="181.2" height="181.8" fill="none" stroke="#2a3a2a" stroke-width="1.1"/>
<circle cx="44.5" cy="283.4" r="1.9" fill="#a01010" stroke="#3a0505" stroke-width="0.6"/>
<circle cx="44.5" cy="374.3" r="1.9" fill="#a01010" stroke="#3a0505" stroke-width="0.6"/>
<circle cx="44.5" cy="465.2" r="1.9" fill="#a01010" stroke="#3a0505" stroke-width="0.6"/>
<circle cx="135.1" cy="283.4" r="1.9" fill="#a01010" stroke="#3a0505" stroke-width="0.6"/>
<circle cx="225.7" cy="283.4" r="1.9" fill="#a01010" stroke="#3a0505" stroke-width="0.6"/>
<circle cx="225.7" cy="374.3" r="1.9" fill="#a01010" stroke="#3a0505" stroke-width="0.6"/>
<circle cx="135.1" cy="465.2" r="1.9" fill="#a01010" stroke="#3a0505" stroke-width="0.6"/>
<rect x="270.1" y="283.4" width="181.2" height="181.8" fill="none" stroke="#2a3a2a" stroke-width="1.1"/>
<circle cx="270.1" cy="283.4" r="1.9" fill="#a01010" stroke="#3a0505" stroke-width="0.6"/>
<circle cx="270.1" cy="374.3" r="1.9" fill="#a01010" stroke="#3a0505" stroke-width="0.6"/>
<circle cx="270.1" cy="465.2" r="1.9" fill="#a01010" stroke="#3a0505" stroke-width="0.6"/>
<circle cx="360.7" cy="283.4" r="1.9" fill="#a01010" stroke="#3a0505" stroke-width="0.6"/>
<circle cx="451.3" cy="283.4" r="1.9" fill="#a01010" stroke="#3a0505" stroke-width="0.6"/>
<circle cx="451.3" cy="374.3" r="1.9" fill="#a01010" stroke="#3a0505" stroke-width="0.6"/>
<circle cx="360.7" cy="465.2" r="1.9" fill="#a01010" stroke="#3a0505" stroke-width="0.6"/>
<rect x="495.7" y="283.4" width="181.2" height="181.8" fill="none" stroke="#2a3a2a" stroke-width="1.1"/>
<circle cx="495.7" cy="283.4" r="1.9" fill="#a01010" stroke="#3a0505" stroke-width="0.6"/>
<circle cx="495.7" cy="374.3" r="1.9" fill="#a01010" stroke="#3a0505" stroke-width="0.6"/>
<circle cx="495.7" cy="465.2" r="1.9" fill="#a01010" stroke="#3a0505" stroke-width="0.6"/>
<circle cx="586.3" cy="283.4" r="1.9" fill="#a01010" stroke="#3a0505" stroke-width="0.6"/>
<circle cx="676.9" cy="283.4" r="1.9" fill="#a01010" stroke="#3a0505" stroke-width="0.6"/>
<circle cx="676.9" cy="374.3" r="1.9" fill="#a01010" stroke="#3a0505" stroke-width="0.6"/>
<circle cx="586.3" cy="465.2" r="1.9" fill="#a01010" stroke="#3a0505" stroke-width="0.6"/>
</svg>
</div></body></html>
